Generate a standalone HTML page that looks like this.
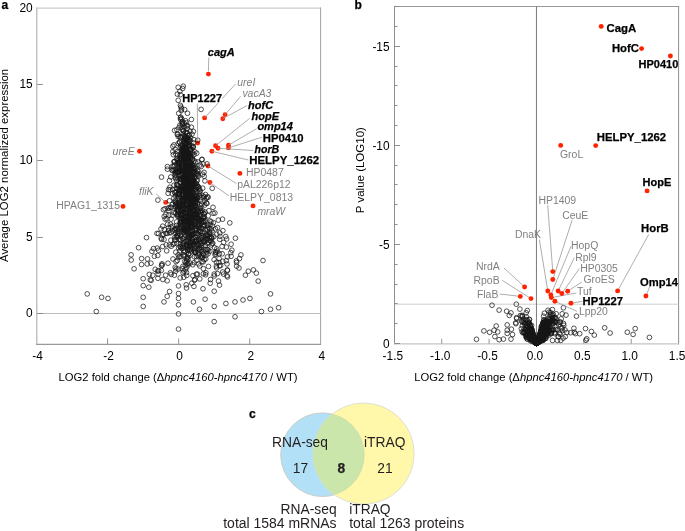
<!DOCTYPE html>
<html><head><meta charset="utf-8"><style>
html,body{margin:0;padding:0;background:#fff;width:685px;height:531px;overflow:hidden;font-family:"Liberation Sans", sans-serif;}
</style></head><body>
<svg width="685" height="531" viewBox="0 0 685 531" style="position:absolute;left:0;top:0;will-change:transform">
<rect width="685" height="531" fill="#fff"/>
<g font-family='"Liberation Sans", sans-serif'>
<line x1="36.80" y1="7.50" x2="36.80" y2="344.90" stroke="#b6b6b6" stroke-width="1.25"/>
<line x1="36.20" y1="8.10" x2="321.00" y2="8.10" stroke="#cbcbcb" stroke-width="1.4"/>
<line x1="320.60" y1="7.50" x2="320.60" y2="344.90" stroke="#a2a2a2" stroke-width="1.0"/>
<line x1="36.20" y1="344.30" x2="321.00" y2="344.30" stroke="#9a9a9a" stroke-width="1.2"/>
<line x1="36.90" y1="313.50" x2="320.80" y2="313.50" stroke="#bdbdbd" stroke-width="1.1"/>
<line x1="37.20" y1="237.50" x2="42.90" y2="237.50" stroke="#858585" stroke-width="0.9"/>
<line x1="37.20" y1="160.50" x2="42.90" y2="160.50" stroke="#858585" stroke-width="0.9"/>
<line x1="37.20" y1="84.50" x2="42.90" y2="84.50" stroke="#858585" stroke-width="0.9"/>
<line x1="37.20" y1="313.50" x2="42.90" y2="313.50" stroke="#858585" stroke-width="0.9"/>
<line x1="107.57" y1="344.10" x2="107.57" y2="338.50" stroke="#7a7a7a" stroke-width="0.8"/>
<line x1="178.65" y1="344.10" x2="178.65" y2="338.50" stroke="#7a7a7a" stroke-width="0.8"/>
<line x1="249.73" y1="344.10" x2="249.73" y2="338.50" stroke="#7a7a7a" stroke-width="0.8"/>
<circle cx="208.4" cy="74.1" r="2.45" fill="#ff2200"/>
<circle cx="204.6" cy="117.9" r="2.45" fill="#ff2200"/>
<circle cx="225.1" cy="114.6" r="2.45" fill="#ff2200"/>
<circle cx="222.8" cy="118.7" r="2.45" fill="#ff2200"/>
<circle cx="197.7" cy="143.0" r="2.45" fill="#ff2200"/>
<circle cx="215.6" cy="145.8" r="2.45" fill="#ff2200"/>
<circle cx="218.0" cy="148.3" r="2.45" fill="#ff2200"/>
<circle cx="228.5" cy="145.2" r="2.45" fill="#ff2200"/>
<circle cx="228.5" cy="147.9" r="2.45" fill="#ff2200"/>
<circle cx="211.9" cy="151.3" r="2.45" fill="#ff2200"/>
<circle cx="139.5" cy="151.3" r="2.45" fill="#ff2200"/>
<circle cx="208.0" cy="166.0" r="2.45" fill="#ff2200"/>
<circle cx="239.9" cy="173.4" r="2.45" fill="#ff2200"/>
<circle cx="209.9" cy="182.5" r="2.45" fill="#ff2200"/>
<circle cx="253.0" cy="205.9" r="2.45" fill="#ff2200"/>
<circle cx="165.7" cy="202.4" r="2.45" fill="#ff2200"/>
<circle cx="123.0" cy="206.4" r="2.45" fill="#ff2200"/>
<g fill="none" stroke="#161616" stroke-width="0.74">
<circle cx="87.2" cy="293.9" r="2.35"/>
<circle cx="101.6" cy="297.3" r="2.35"/>
<circle cx="108.0" cy="298.4" r="2.35"/>
<circle cx="96.3" cy="311.5" r="2.35"/>
<circle cx="134.1" cy="268.8" r="2.35"/>
<circle cx="141.6" cy="264.5" r="2.35"/>
<circle cx="147.2" cy="264.0" r="2.35"/>
<circle cx="150.9" cy="263.2" r="2.35"/>
<circle cx="131.2" cy="260.0" r="2.35"/>
<circle cx="143.2" cy="278.7" r="2.35"/>
<circle cx="143.2" cy="285.6" r="2.35"/>
<circle cx="148.8" cy="287.2" r="2.35"/>
<circle cx="143.2" cy="297.3" r="2.35"/>
<circle cx="143.2" cy="306.4" r="2.35"/>
<circle cx="149.3" cy="274.4" r="2.35"/>
<circle cx="152.8" cy="275.2" r="2.35"/>
<circle cx="151.2" cy="280.3" r="2.35"/>
<circle cx="155.2" cy="269.3" r="2.35"/>
<circle cx="158.1" cy="274.1" r="2.35"/>
<circle cx="161.6" cy="265.6" r="2.35"/>
<circle cx="161.3" cy="270.4" r="2.35"/>
<circle cx="162.9" cy="279.5" r="2.35"/>
<circle cx="167.2" cy="280.8" r="2.35"/>
<circle cx="165.6" cy="275.2" r="2.35"/>
<circle cx="168.0" cy="263.2" r="2.35"/>
<circle cx="170.4" cy="272.8" r="2.35"/>
<circle cx="171.2" cy="274.4" r="2.35"/>
<circle cx="174.4" cy="275.2" r="2.35"/>
<circle cx="175.7" cy="271.2" r="2.35"/>
<circle cx="175.2" cy="267.2" r="2.35"/>
<circle cx="176.0" cy="261.6" r="2.35"/>
<circle cx="169.6" cy="291.5" r="2.35"/>
<circle cx="167.2" cy="296.3" r="2.35"/>
<circle cx="164.0" cy="301.9" r="2.35"/>
<circle cx="178.5" cy="285.9" r="2.35"/>
<circle cx="178.5" cy="293.6" r="2.35"/>
<circle cx="178.5" cy="298.4" r="2.35"/>
<circle cx="178.5" cy="304.8" r="2.35"/>
<circle cx="178.5" cy="313.9" r="2.35"/>
<circle cx="178.5" cy="329.1" r="2.35"/>
<circle cx="183.8" cy="277.3" r="2.35"/>
<circle cx="186.2" cy="284.8" r="2.35"/>
<circle cx="186.5" cy="288.0" r="2.35"/>
<circle cx="191.8" cy="283.2" r="2.35"/>
<circle cx="193.9" cy="286.4" r="2.35"/>
<circle cx="193.4" cy="301.9" r="2.35"/>
<circle cx="199.5" cy="309.3" r="2.35"/>
<circle cx="203.0" cy="288.8" r="2.35"/>
<circle cx="205.1" cy="299.2" r="2.35"/>
<circle cx="210.2" cy="283.2" r="2.35"/>
<circle cx="210.5" cy="279.5" r="2.35"/>
<circle cx="214.2" cy="291.2" r="2.35"/>
<circle cx="214.2" cy="306.4" r="2.35"/>
<circle cx="214.2" cy="321.6" r="2.35"/>
<circle cx="218.5" cy="281.1" r="2.35"/>
<circle cx="219.5" cy="285.1" r="2.35"/>
<circle cx="225.9" cy="303.5" r="2.35"/>
<circle cx="235.0" cy="301.9" r="2.35"/>
<circle cx="235.0" cy="316.8" r="2.35"/>
<circle cx="243.0" cy="300.0" r="2.35"/>
<circle cx="249.9" cy="298.4" r="2.35"/>
<circle cx="245.4" cy="275.2" r="2.35"/>
<circle cx="248.3" cy="271.2" r="2.35"/>
<circle cx="253.4" cy="269.9" r="2.35"/>
<circle cx="256.3" cy="273.1" r="2.35"/>
<circle cx="258.2" cy="281.1" r="2.35"/>
<circle cx="263.0" cy="260.5" r="2.35"/>
<circle cx="270.5" cy="293.9" r="2.35"/>
<circle cx="270.5" cy="309.3" r="2.35"/>
<circle cx="261.4" cy="311.5" r="2.35"/>
<circle cx="227.0" cy="264.0" r="2.35"/>
<circle cx="227.5" cy="270.4" r="2.35"/>
<circle cx="227.0" cy="275.7" r="2.35"/>
<circle cx="222.7" cy="272.0" r="2.35"/>
<circle cx="223.5" cy="274.1" r="2.35"/>
<circle cx="236.6" cy="262.4" r="2.35"/>
<circle cx="236.6" cy="266.1" r="2.35"/>
<circle cx="239.0" cy="268.0" r="2.35"/>
<circle cx="220.6" cy="265.6" r="2.35"/>
<circle cx="216.3" cy="266.1" r="2.35"/>
<circle cx="214.2" cy="274.1" r="2.35"/>
<circle cx="214.2" cy="276.0" r="2.35"/>
<circle cx="205.9" cy="272.8" r="2.35"/>
<circle cx="199.8" cy="278.9" r="2.35"/>
<circle cx="195.0" cy="279.5" r="2.35"/>
<circle cx="192.9" cy="275.7" r="2.35"/>
<circle cx="197.4" cy="274.1" r="2.35"/>
<circle cx="182.2" cy="268.8" r="2.35"/>
<circle cx="186.5" cy="272.5" r="2.35"/>
<circle cx="240.9" cy="254.9" r="2.35"/>
<circle cx="278.6" cy="307.7" r="2.35"/>
<circle cx="157.9" cy="200.1" r="2.35"/>
<circle cx="165.0" cy="208.8" r="2.35"/>
<circle cx="164.2" cy="216.4" r="2.35"/>
<circle cx="162.7" cy="226.2" r="2.35"/>
<circle cx="157.0" cy="233.4" r="2.35"/>
<circle cx="161.2" cy="238.2" r="2.35"/>
<circle cx="138.6" cy="247.7" r="2.35"/>
<circle cx="131.1" cy="254.8" r="2.35"/>
<circle cx="141.6" cy="258.6" r="2.35"/>
<circle cx="151.9" cy="251.3" r="2.35"/>
<circle cx="158.5" cy="250.3" r="2.35"/>
<circle cx="162.7" cy="246.5" r="2.35"/>
<circle cx="154.4" cy="256.3" r="2.35"/>
<circle cx="162.0" cy="263.8" r="2.35"/>
<circle cx="178.2" cy="87.3" r="2.35"/>
<circle cx="183.2" cy="86.2" r="2.35"/>
<circle cx="182.7" cy="88.5" r="2.35"/>
<circle cx="179.9" cy="91.3" r="2.35"/>
<circle cx="177.4" cy="94.1" r="2.35"/>
<circle cx="180.4" cy="94.7" r="2.35"/>
<circle cx="178.2" cy="100.3" r="2.35"/>
<circle cx="180.4" cy="105.4" r="2.35"/>
<circle cx="181.0" cy="107.1" r="2.35"/>
<circle cx="181.6" cy="108.8" r="2.35"/>
<circle cx="184.6" cy="109.6" r="2.35"/>
<circle cx="187.5" cy="113.3" r="2.35"/>
<circle cx="178.7" cy="113.3" r="2.35"/>
<circle cx="181.2" cy="110.5" r="2.35"/>
<circle cx="191.4" cy="119.5" r="2.35"/>
<circle cx="201.1" cy="109.4" r="2.35"/>
<circle cx="180.4" cy="117.9" r="2.35"/>
<circle cx="182.1" cy="122.4" r="2.35"/>
<circle cx="182.1" cy="124.1" r="2.35"/>
<circle cx="179.9" cy="125.2" r="2.35"/>
<circle cx="186.6" cy="125.8" r="2.35"/>
<circle cx="191.4" cy="127.2" r="2.35"/>
<circle cx="193.4" cy="131.4" r="2.35"/>
<circle cx="178.2" cy="136.5" r="2.35"/>
<circle cx="161.5" cy="177.1" r="2.35"/>
<circle cx="167.4" cy="169.2" r="2.35"/>
<circle cx="173.3" cy="154.7" r="2.35"/>
<circle cx="168.5" cy="189.6" r="2.35"/>
<circle cx="207.0" cy="163.9" r="2.35"/>
<circle cx="212.2" cy="188.3" r="2.35"/>
<circle cx="197.7" cy="140.2" r="2.35"/>
<circle cx="213.0" cy="207.3" r="2.35"/>
<circle cx="218.3" cy="220.1" r="2.35"/>
<circle cx="222.9" cy="230.7" r="2.35"/>
<circle cx="226.6" cy="239.0" r="2.35"/>
<circle cx="235.4" cy="238.2" r="2.35"/>
<circle cx="231.1" cy="244.2" r="2.35"/>
<circle cx="231.9" cy="250.2" r="2.35"/>
<circle cx="231.1" cy="256.3" r="2.35"/>
<circle cx="205.5" cy="194.5" r="2.35"/>
<circle cx="213.1" cy="213.3" r="2.35"/>
<circle cx="217.6" cy="227.7" r="2.35"/>
<circle cx="219.8" cy="232.9" r="2.35"/>
<circle cx="222.1" cy="246.5" r="2.35"/>
<circle cx="236.4" cy="260.8" r="2.35"/>
<circle cx="180.8" cy="117.1" r="2.35"/>
<circle cx="181.6" cy="118.7" r="2.35"/>
<circle cx="180.6" cy="119.5" r="2.35"/>
<circle cx="185.7" cy="120.8" r="2.35"/>
<circle cx="182.5" cy="121.5" r="2.35"/>
<circle cx="186.4" cy="122.7" r="2.35"/>
<circle cx="184.2" cy="123.4" r="2.35"/>
<circle cx="182.6" cy="124.2" r="2.35"/>
<circle cx="187.7" cy="125.8" r="2.35"/>
<circle cx="184.4" cy="126.9" r="2.35"/>
<circle cx="181.8" cy="127.6" r="2.35"/>
<circle cx="179.0" cy="127.5" r="2.35"/>
<circle cx="187.2" cy="128.7" r="2.35"/>
<circle cx="182.3" cy="129.7" r="2.35"/>
<circle cx="176.9" cy="129.8" r="2.35"/>
<circle cx="174.6" cy="130.4" r="2.35"/>
<circle cx="183.5" cy="130.5" r="2.35"/>
<circle cx="183.3" cy="131.1" r="2.35"/>
<circle cx="190.0" cy="131.1" r="2.35"/>
<circle cx="186.5" cy="132.4" r="2.35"/>
<circle cx="185.3" cy="132.4" r="2.35"/>
<circle cx="183.2" cy="133.9" r="2.35"/>
<circle cx="187.6" cy="133.3" r="2.35"/>
<circle cx="177.3" cy="134.4" r="2.35"/>
<circle cx="192.0" cy="134.2" r="2.35"/>
<circle cx="177.8" cy="134.2" r="2.35"/>
<circle cx="185.1" cy="135.6" r="2.35"/>
<circle cx="189.3" cy="135.3" r="2.35"/>
<circle cx="188.8" cy="135.4" r="2.35"/>
<circle cx="184.8" cy="137.0" r="2.35"/>
<circle cx="182.8" cy="136.6" r="2.35"/>
<circle cx="180.0" cy="136.7" r="2.35"/>
<circle cx="190.7" cy="137.9" r="2.35"/>
<circle cx="180.4" cy="137.8" r="2.35"/>
<circle cx="181.4" cy="137.1" r="2.35"/>
<circle cx="187.4" cy="137.6" r="2.35"/>
<circle cx="187.5" cy="138.2" r="2.35"/>
<circle cx="186.1" cy="138.3" r="2.35"/>
<circle cx="184.9" cy="138.2" r="2.35"/>
<circle cx="184.9" cy="138.1" r="2.35"/>
<circle cx="193.8" cy="139.6" r="2.35"/>
<circle cx="186.4" cy="139.1" r="2.35"/>
<circle cx="184.9" cy="139.4" r="2.35"/>
<circle cx="189.0" cy="139.1" r="2.35"/>
<circle cx="190.0" cy="140.5" r="2.35"/>
<circle cx="184.8" cy="140.1" r="2.35"/>
<circle cx="188.3" cy="140.3" r="2.35"/>
<circle cx="187.5" cy="140.8" r="2.35"/>
<circle cx="186.7" cy="141.1" r="2.35"/>
<circle cx="184.0" cy="141.5" r="2.35"/>
<circle cx="184.8" cy="142.0" r="2.35"/>
<circle cx="189.7" cy="141.3" r="2.35"/>
<circle cx="179.7" cy="142.2" r="2.35"/>
<circle cx="186.0" cy="142.8" r="2.35"/>
<circle cx="179.5" cy="142.3" r="2.35"/>
<circle cx="186.6" cy="143.0" r="2.35"/>
<circle cx="193.6" cy="142.9" r="2.35"/>
<circle cx="188.5" cy="143.2" r="2.35"/>
<circle cx="178.2" cy="143.5" r="2.35"/>
<circle cx="184.5" cy="143.0" r="2.35"/>
<circle cx="186.2" cy="143.3" r="2.35"/>
<circle cx="181.1" cy="144.4" r="2.35"/>
<circle cx="174.0" cy="144.9" r="2.35"/>
<circle cx="184.4" cy="144.2" r="2.35"/>
<circle cx="185.8" cy="144.2" r="2.35"/>
<circle cx="188.6" cy="145.9" r="2.35"/>
<circle cx="188.4" cy="145.7" r="2.35"/>
<circle cx="180.7" cy="145.8" r="2.35"/>
<circle cx="191.6" cy="145.9" r="2.35"/>
<circle cx="189.1" cy="145.8" r="2.35"/>
<circle cx="182.4" cy="146.8" r="2.35"/>
<circle cx="185.9" cy="146.3" r="2.35"/>
<circle cx="189.7" cy="146.4" r="2.35"/>
<circle cx="172.8" cy="146.4" r="2.35"/>
<circle cx="193.1" cy="146.2" r="2.35"/>
<circle cx="182.9" cy="147.2" r="2.35"/>
<circle cx="193.2" cy="147.1" r="2.35"/>
<circle cx="180.3" cy="147.8" r="2.35"/>
<circle cx="192.9" cy="147.4" r="2.35"/>
<circle cx="184.6" cy="147.5" r="2.35"/>
<circle cx="186.1" cy="148.0" r="2.35"/>
<circle cx="186.2" cy="148.5" r="2.35"/>
<circle cx="190.6" cy="148.9" r="2.35"/>
<circle cx="183.3" cy="148.8" r="2.35"/>
<circle cx="186.5" cy="148.3" r="2.35"/>
<circle cx="189.4" cy="148.2" r="2.35"/>
<circle cx="182.1" cy="148.4" r="2.35"/>
<circle cx="183.5" cy="149.9" r="2.35"/>
<circle cx="182.1" cy="149.6" r="2.35"/>
<circle cx="190.3" cy="149.9" r="2.35"/>
<circle cx="175.2" cy="149.5" r="2.35"/>
<circle cx="191.2" cy="149.5" r="2.35"/>
<circle cx="184.6" cy="149.4" r="2.35"/>
<circle cx="185.5" cy="149.2" r="2.35"/>
<circle cx="186.6" cy="150.5" r="2.35"/>
<circle cx="182.5" cy="150.7" r="2.35"/>
<circle cx="181.2" cy="150.5" r="2.35"/>
<circle cx="184.0" cy="150.6" r="2.35"/>
<circle cx="186.2" cy="150.6" r="2.35"/>
<circle cx="183.2" cy="150.2" r="2.35"/>
<circle cx="184.1" cy="150.5" r="2.35"/>
<circle cx="194.9" cy="151.8" r="2.35"/>
<circle cx="190.7" cy="151.6" r="2.35"/>
<circle cx="182.6" cy="151.5" r="2.35"/>
<circle cx="177.3" cy="151.5" r="2.35"/>
<circle cx="185.0" cy="151.5" r="2.35"/>
<circle cx="172.8" cy="151.7" r="2.35"/>
<circle cx="187.5" cy="151.9" r="2.35"/>
<circle cx="185.3" cy="152.9" r="2.35"/>
<circle cx="192.8" cy="152.8" r="2.35"/>
<circle cx="187.6" cy="152.4" r="2.35"/>
<circle cx="187.9" cy="152.1" r="2.35"/>
<circle cx="185.8" cy="152.7" r="2.35"/>
<circle cx="187.9" cy="152.8" r="2.35"/>
<circle cx="188.3" cy="152.7" r="2.35"/>
<circle cx="183.8" cy="153.1" r="2.35"/>
<circle cx="196.7" cy="153.2" r="2.35"/>
<circle cx="175.8" cy="154.0" r="2.35"/>
<circle cx="180.5" cy="154.0" r="2.35"/>
<circle cx="189.6" cy="153.8" r="2.35"/>
<circle cx="188.9" cy="153.5" r="2.35"/>
<circle cx="190.8" cy="153.3" r="2.35"/>
<circle cx="181.9" cy="154.0" r="2.35"/>
<circle cx="194.1" cy="154.6" r="2.35"/>
<circle cx="184.8" cy="154.3" r="2.35"/>
<circle cx="186.2" cy="154.6" r="2.35"/>
<circle cx="183.7" cy="155.0" r="2.35"/>
<circle cx="185.6" cy="154.8" r="2.35"/>
<circle cx="188.4" cy="154.3" r="2.35"/>
<circle cx="185.3" cy="154.0" r="2.35"/>
<circle cx="185.4" cy="155.4" r="2.35"/>
<circle cx="188.9" cy="155.9" r="2.35"/>
<circle cx="187.7" cy="155.1" r="2.35"/>
<circle cx="181.7" cy="155.9" r="2.35"/>
<circle cx="177.6" cy="155.1" r="2.35"/>
<circle cx="181.9" cy="155.1" r="2.35"/>
<circle cx="183.5" cy="155.1" r="2.35"/>
<circle cx="180.1" cy="155.9" r="2.35"/>
<circle cx="186.6" cy="156.9" r="2.35"/>
<circle cx="183.5" cy="156.1" r="2.35"/>
<circle cx="190.1" cy="156.3" r="2.35"/>
<circle cx="180.9" cy="156.6" r="2.35"/>
<circle cx="190.1" cy="156.1" r="2.35"/>
<circle cx="183.8" cy="156.5" r="2.35"/>
<circle cx="186.1" cy="156.2" r="2.35"/>
<circle cx="188.7" cy="156.1" r="2.35"/>
<circle cx="183.9" cy="157.8" r="2.35"/>
<circle cx="190.6" cy="157.3" r="2.35"/>
<circle cx="182.1" cy="157.3" r="2.35"/>
<circle cx="185.9" cy="157.0" r="2.35"/>
<circle cx="185.9" cy="157.7" r="2.35"/>
<circle cx="187.0" cy="157.6" r="2.35"/>
<circle cx="188.4" cy="157.9" r="2.35"/>
<circle cx="192.2" cy="157.1" r="2.35"/>
<circle cx="188.6" cy="157.5" r="2.35"/>
<circle cx="180.0" cy="158.4" r="2.35"/>
<circle cx="176.6" cy="159.0" r="2.35"/>
<circle cx="185.5" cy="158.3" r="2.35"/>
<circle cx="190.7" cy="158.6" r="2.35"/>
<circle cx="177.6" cy="158.4" r="2.35"/>
<circle cx="184.8" cy="158.1" r="2.35"/>
<circle cx="187.6" cy="158.1" r="2.35"/>
<circle cx="185.7" cy="158.2" r="2.35"/>
<circle cx="181.2" cy="158.1" r="2.35"/>
<circle cx="192.3" cy="159.3" r="2.35"/>
<circle cx="179.2" cy="159.2" r="2.35"/>
<circle cx="184.1" cy="159.2" r="2.35"/>
<circle cx="192.6" cy="159.4" r="2.35"/>
<circle cx="184.6" cy="160.0" r="2.35"/>
<circle cx="201.8" cy="159.5" r="2.35"/>
<circle cx="186.5" cy="159.3" r="2.35"/>
<circle cx="202.1" cy="159.4" r="2.35"/>
<circle cx="192.1" cy="159.5" r="2.35"/>
<circle cx="186.0" cy="160.2" r="2.35"/>
<circle cx="185.4" cy="160.3" r="2.35"/>
<circle cx="186.0" cy="160.1" r="2.35"/>
<circle cx="184.5" cy="160.0" r="2.35"/>
<circle cx="187.1" cy="160.3" r="2.35"/>
<circle cx="186.9" cy="160.5" r="2.35"/>
<circle cx="194.3" cy="160.8" r="2.35"/>
<circle cx="180.5" cy="160.9" r="2.35"/>
<circle cx="177.6" cy="160.4" r="2.35"/>
<circle cx="189.6" cy="161.7" r="2.35"/>
<circle cx="185.7" cy="161.6" r="2.35"/>
<circle cx="197.6" cy="161.9" r="2.35"/>
<circle cx="189.3" cy="161.6" r="2.35"/>
<circle cx="184.9" cy="161.1" r="2.35"/>
<circle cx="174.5" cy="161.5" r="2.35"/>
<circle cx="174.0" cy="161.8" r="2.35"/>
<circle cx="185.7" cy="161.8" r="2.35"/>
<circle cx="174.5" cy="161.7" r="2.35"/>
<circle cx="179.3" cy="161.7" r="2.35"/>
<circle cx="189.4" cy="162.4" r="2.35"/>
<circle cx="186.7" cy="162.1" r="2.35"/>
<circle cx="190.3" cy="162.6" r="2.35"/>
<circle cx="179.1" cy="162.6" r="2.35"/>
<circle cx="183.0" cy="162.0" r="2.35"/>
<circle cx="179.4" cy="162.8" r="2.35"/>
<circle cx="186.0" cy="162.5" r="2.35"/>
<circle cx="178.5" cy="162.7" r="2.35"/>
<circle cx="195.6" cy="162.3" r="2.35"/>
<circle cx="190.3" cy="162.1" r="2.35"/>
<circle cx="185.6" cy="163.7" r="2.35"/>
<circle cx="181.8" cy="164.0" r="2.35"/>
<circle cx="179.8" cy="163.5" r="2.35"/>
<circle cx="186.4" cy="163.7" r="2.35"/>
<circle cx="187.1" cy="163.6" r="2.35"/>
<circle cx="177.2" cy="163.1" r="2.35"/>
<circle cx="189.1" cy="163.7" r="2.35"/>
<circle cx="190.1" cy="163.3" r="2.35"/>
<circle cx="185.2" cy="163.1" r="2.35"/>
<circle cx="185.7" cy="163.3" r="2.35"/>
<circle cx="182.7" cy="164.3" r="2.35"/>
<circle cx="177.1" cy="164.5" r="2.35"/>
<circle cx="179.1" cy="164.1" r="2.35"/>
<circle cx="187.8" cy="164.9" r="2.35"/>
<circle cx="191.8" cy="164.9" r="2.35"/>
<circle cx="203.2" cy="164.0" r="2.35"/>
<circle cx="174.5" cy="165.0" r="2.35"/>
<circle cx="189.2" cy="164.4" r="2.35"/>
<circle cx="185.6" cy="164.9" r="2.35"/>
<circle cx="190.6" cy="164.2" r="2.35"/>
<circle cx="191.2" cy="166.0" r="2.35"/>
<circle cx="192.4" cy="165.1" r="2.35"/>
<circle cx="189.5" cy="165.9" r="2.35"/>
<circle cx="179.1" cy="165.7" r="2.35"/>
<circle cx="187.8" cy="165.5" r="2.35"/>
<circle cx="200.1" cy="165.0" r="2.35"/>
<circle cx="193.8" cy="165.5" r="2.35"/>
<circle cx="186.4" cy="165.3" r="2.35"/>
<circle cx="190.0" cy="165.3" r="2.35"/>
<circle cx="190.8" cy="165.8" r="2.35"/>
<circle cx="186.3" cy="166.1" r="2.35"/>
<circle cx="173.6" cy="166.9" r="2.35"/>
<circle cx="183.0" cy="166.3" r="2.35"/>
<circle cx="172.4" cy="166.4" r="2.35"/>
<circle cx="167.4" cy="166.6" r="2.35"/>
<circle cx="201.3" cy="166.4" r="2.35"/>
<circle cx="181.5" cy="166.0" r="2.35"/>
<circle cx="188.5" cy="166.1" r="2.35"/>
<circle cx="189.0" cy="166.9" r="2.35"/>
<circle cx="181.6" cy="166.2" r="2.35"/>
<circle cx="182.0" cy="167.4" r="2.35"/>
<circle cx="186.0" cy="168.0" r="2.35"/>
<circle cx="195.3" cy="167.6" r="2.35"/>
<circle cx="178.2" cy="167.9" r="2.35"/>
<circle cx="194.1" cy="167.7" r="2.35"/>
<circle cx="183.2" cy="167.0" r="2.35"/>
<circle cx="185.5" cy="167.8" r="2.35"/>
<circle cx="179.1" cy="167.6" r="2.35"/>
<circle cx="185.8" cy="167.9" r="2.35"/>
<circle cx="188.3" cy="167.1" r="2.35"/>
<circle cx="183.2" cy="168.7" r="2.35"/>
<circle cx="191.0" cy="169.0" r="2.35"/>
<circle cx="185.7" cy="168.3" r="2.35"/>
<circle cx="196.1" cy="168.6" r="2.35"/>
<circle cx="183.1" cy="168.2" r="2.35"/>
<circle cx="188.8" cy="168.2" r="2.35"/>
<circle cx="192.8" cy="168.2" r="2.35"/>
<circle cx="182.0" cy="168.9" r="2.35"/>
<circle cx="193.6" cy="168.1" r="2.35"/>
<circle cx="186.2" cy="168.2" r="2.35"/>
<circle cx="184.8" cy="169.2" r="2.35"/>
<circle cx="188.8" cy="169.3" r="2.35"/>
<circle cx="173.6" cy="169.7" r="2.35"/>
<circle cx="180.4" cy="169.4" r="2.35"/>
<circle cx="179.3" cy="169.4" r="2.35"/>
<circle cx="190.6" cy="169.3" r="2.35"/>
<circle cx="191.4" cy="170.0" r="2.35"/>
<circle cx="188.4" cy="169.1" r="2.35"/>
<circle cx="176.9" cy="169.9" r="2.35"/>
<circle cx="186.2" cy="169.2" r="2.35"/>
<circle cx="186.5" cy="170.4" r="2.35"/>
<circle cx="193.2" cy="171.0" r="2.35"/>
<circle cx="194.4" cy="170.0" r="2.35"/>
<circle cx="175.2" cy="170.0" r="2.35"/>
<circle cx="182.8" cy="170.5" r="2.35"/>
<circle cx="172.4" cy="170.6" r="2.35"/>
<circle cx="193.2" cy="170.9" r="2.35"/>
<circle cx="186.4" cy="170.8" r="2.35"/>
<circle cx="197.6" cy="170.2" r="2.35"/>
<circle cx="172.1" cy="170.1" r="2.35"/>
<circle cx="176.2" cy="171.9" r="2.35"/>
<circle cx="185.0" cy="171.7" r="2.35"/>
<circle cx="179.5" cy="171.5" r="2.35"/>
<circle cx="177.2" cy="171.6" r="2.35"/>
<circle cx="198.0" cy="171.2" r="2.35"/>
<circle cx="189.4" cy="171.9" r="2.35"/>
<circle cx="182.9" cy="171.1" r="2.35"/>
<circle cx="181.8" cy="171.3" r="2.35"/>
<circle cx="179.5" cy="171.1" r="2.35"/>
<circle cx="178.5" cy="171.1" r="2.35"/>
<circle cx="177.5" cy="171.4" r="2.35"/>
<circle cx="185.1" cy="172.6" r="2.35"/>
<circle cx="192.3" cy="172.5" r="2.35"/>
<circle cx="186.9" cy="173.0" r="2.35"/>
<circle cx="177.7" cy="172.5" r="2.35"/>
<circle cx="175.2" cy="172.2" r="2.35"/>
<circle cx="186.8" cy="172.7" r="2.35"/>
<circle cx="204.0" cy="172.3" r="2.35"/>
<circle cx="194.5" cy="172.7" r="2.35"/>
<circle cx="187.6" cy="172.4" r="2.35"/>
<circle cx="186.0" cy="172.9" r="2.35"/>
<circle cx="196.8" cy="173.0" r="2.35"/>
<circle cx="182.7" cy="173.7" r="2.35"/>
<circle cx="192.7" cy="173.2" r="2.35"/>
<circle cx="189.8" cy="173.5" r="2.35"/>
<circle cx="175.7" cy="173.2" r="2.35"/>
<circle cx="192.4" cy="173.8" r="2.35"/>
<circle cx="185.4" cy="173.2" r="2.35"/>
<circle cx="188.6" cy="173.3" r="2.35"/>
<circle cx="198.0" cy="174.0" r="2.35"/>
<circle cx="182.1" cy="173.2" r="2.35"/>
<circle cx="186.6" cy="173.4" r="2.35"/>
<circle cx="190.3" cy="174.4" r="2.35"/>
<circle cx="185.3" cy="174.2" r="2.35"/>
<circle cx="190.4" cy="174.1" r="2.35"/>
<circle cx="185.9" cy="174.1" r="2.35"/>
<circle cx="174.9" cy="174.9" r="2.35"/>
<circle cx="195.8" cy="174.7" r="2.35"/>
<circle cx="202.7" cy="174.3" r="2.35"/>
<circle cx="186.3" cy="174.2" r="2.35"/>
<circle cx="197.2" cy="174.0" r="2.35"/>
<circle cx="182.0" cy="174.7" r="2.35"/>
<circle cx="182.2" cy="175.2" r="2.35"/>
<circle cx="191.1" cy="175.0" r="2.35"/>
<circle cx="185.4" cy="176.0" r="2.35"/>
<circle cx="193.0" cy="175.1" r="2.35"/>
<circle cx="191.3" cy="175.4" r="2.35"/>
<circle cx="185.5" cy="175.8" r="2.35"/>
<circle cx="189.9" cy="175.0" r="2.35"/>
<circle cx="179.9" cy="175.5" r="2.35"/>
<circle cx="175.6" cy="175.2" r="2.35"/>
<circle cx="197.9" cy="175.4" r="2.35"/>
<circle cx="188.0" cy="175.4" r="2.35"/>
<circle cx="185.6" cy="176.8" r="2.35"/>
<circle cx="188.5" cy="176.1" r="2.35"/>
<circle cx="187.1" cy="176.9" r="2.35"/>
<circle cx="186.1" cy="176.9" r="2.35"/>
<circle cx="198.4" cy="176.3" r="2.35"/>
<circle cx="184.2" cy="176.6" r="2.35"/>
<circle cx="204.2" cy="176.3" r="2.35"/>
<circle cx="185.4" cy="176.3" r="2.35"/>
<circle cx="180.6" cy="176.0" r="2.35"/>
<circle cx="187.2" cy="176.6" r="2.35"/>
<circle cx="170.8" cy="177.0" r="2.35"/>
<circle cx="187.5" cy="178.0" r="2.35"/>
<circle cx="194.7" cy="178.0" r="2.35"/>
<circle cx="182.6" cy="177.4" r="2.35"/>
<circle cx="190.2" cy="177.5" r="2.35"/>
<circle cx="190.7" cy="177.8" r="2.35"/>
<circle cx="184.7" cy="177.7" r="2.35"/>
<circle cx="192.1" cy="177.6" r="2.35"/>
<circle cx="175.7" cy="177.3" r="2.35"/>
<circle cx="183.8" cy="177.8" r="2.35"/>
<circle cx="192.9" cy="178.2" r="2.35"/>
<circle cx="186.8" cy="178.1" r="2.35"/>
<circle cx="181.3" cy="178.0" r="2.35"/>
<circle cx="180.7" cy="179.0" r="2.35"/>
<circle cx="184.7" cy="178.9" r="2.35"/>
<circle cx="192.3" cy="178.1" r="2.35"/>
<circle cx="186.3" cy="178.1" r="2.35"/>
<circle cx="175.5" cy="178.4" r="2.35"/>
<circle cx="186.8" cy="178.2" r="2.35"/>
<circle cx="178.1" cy="178.7" r="2.35"/>
<circle cx="191.7" cy="178.7" r="2.35"/>
<circle cx="184.9" cy="179.8" r="2.35"/>
<circle cx="183.6" cy="179.3" r="2.35"/>
<circle cx="180.4" cy="179.7" r="2.35"/>
<circle cx="183.9" cy="179.2" r="2.35"/>
<circle cx="186.8" cy="179.2" r="2.35"/>
<circle cx="192.2" cy="179.9" r="2.35"/>
<circle cx="181.1" cy="179.4" r="2.35"/>
<circle cx="183.7" cy="180.0" r="2.35"/>
<circle cx="181.5" cy="179.8" r="2.35"/>
<circle cx="186.5" cy="179.7" r="2.35"/>
<circle cx="193.4" cy="180.8" r="2.35"/>
<circle cx="191.7" cy="180.8" r="2.35"/>
<circle cx="188.6" cy="180.3" r="2.35"/>
<circle cx="185.7" cy="180.1" r="2.35"/>
<circle cx="194.0" cy="180.6" r="2.35"/>
<circle cx="204.9" cy="180.9" r="2.35"/>
<circle cx="176.7" cy="180.4" r="2.35"/>
<circle cx="197.3" cy="180.3" r="2.35"/>
<circle cx="189.8" cy="180.1" r="2.35"/>
<circle cx="169.5" cy="180.6" r="2.35"/>
<circle cx="188.3" cy="181.1" r="2.35"/>
<circle cx="193.7" cy="181.2" r="2.35"/>
<circle cx="186.5" cy="181.7" r="2.35"/>
<circle cx="196.7" cy="181.2" r="2.35"/>
<circle cx="193.3" cy="181.7" r="2.35"/>
<circle cx="187.3" cy="181.2" r="2.35"/>
<circle cx="185.0" cy="181.8" r="2.35"/>
<circle cx="191.4" cy="181.5" r="2.35"/>
<circle cx="190.0" cy="181.4" r="2.35"/>
<circle cx="188.1" cy="181.6" r="2.35"/>
<circle cx="184.8" cy="181.2" r="2.35"/>
<circle cx="184.4" cy="182.4" r="2.35"/>
<circle cx="185.6" cy="183.0" r="2.35"/>
<circle cx="193.0" cy="182.3" r="2.35"/>
<circle cx="180.6" cy="182.4" r="2.35"/>
<circle cx="184.1" cy="182.9" r="2.35"/>
<circle cx="193.9" cy="182.2" r="2.35"/>
<circle cx="186.7" cy="182.7" r="2.35"/>
<circle cx="187.1" cy="182.9" r="2.35"/>
<circle cx="187.6" cy="182.4" r="2.35"/>
<circle cx="190.1" cy="182.9" r="2.35"/>
<circle cx="180.1" cy="182.5" r="2.35"/>
<circle cx="196.3" cy="183.6" r="2.35"/>
<circle cx="187.8" cy="183.9" r="2.35"/>
<circle cx="195.7" cy="183.4" r="2.35"/>
<circle cx="192.4" cy="183.5" r="2.35"/>
<circle cx="190.6" cy="183.5" r="2.35"/>
<circle cx="191.7" cy="183.9" r="2.35"/>
<circle cx="193.6" cy="183.8" r="2.35"/>
<circle cx="192.4" cy="184.0" r="2.35"/>
<circle cx="188.2" cy="183.9" r="2.35"/>
<circle cx="190.6" cy="184.0" r="2.35"/>
<circle cx="184.5" cy="183.9" r="2.35"/>
<circle cx="187.2" cy="184.9" r="2.35"/>
<circle cx="176.8" cy="184.2" r="2.35"/>
<circle cx="177.4" cy="184.8" r="2.35"/>
<circle cx="188.3" cy="184.8" r="2.35"/>
<circle cx="194.4" cy="184.8" r="2.35"/>
<circle cx="189.1" cy="184.4" r="2.35"/>
<circle cx="191.7" cy="184.5" r="2.35"/>
<circle cx="184.1" cy="184.2" r="2.35"/>
<circle cx="189.5" cy="184.7" r="2.35"/>
<circle cx="188.7" cy="184.6" r="2.35"/>
<circle cx="185.7" cy="184.8" r="2.35"/>
<circle cx="189.0" cy="185.6" r="2.35"/>
<circle cx="183.8" cy="185.6" r="2.35"/>
<circle cx="182.5" cy="185.4" r="2.35"/>
<circle cx="182.4" cy="185.6" r="2.35"/>
<circle cx="177.2" cy="185.4" r="2.35"/>
<circle cx="191.9" cy="185.4" r="2.35"/>
<circle cx="197.3" cy="185.5" r="2.35"/>
<circle cx="188.5" cy="185.2" r="2.35"/>
<circle cx="188.1" cy="185.5" r="2.35"/>
<circle cx="174.0" cy="185.2" r="2.35"/>
<circle cx="183.5" cy="185.1" r="2.35"/>
<circle cx="187.7" cy="186.1" r="2.35"/>
<circle cx="178.6" cy="186.0" r="2.35"/>
<circle cx="190.3" cy="186.6" r="2.35"/>
<circle cx="197.8" cy="186.8" r="2.35"/>
<circle cx="193.2" cy="186.5" r="2.35"/>
<circle cx="195.5" cy="186.4" r="2.35"/>
<circle cx="190.1" cy="187.0" r="2.35"/>
<circle cx="196.9" cy="187.0" r="2.35"/>
<circle cx="198.4" cy="186.7" r="2.35"/>
<circle cx="189.1" cy="187.0" r="2.35"/>
<circle cx="182.5" cy="186.5" r="2.35"/>
<circle cx="191.1" cy="187.8" r="2.35"/>
<circle cx="184.8" cy="187.9" r="2.35"/>
<circle cx="193.7" cy="187.8" r="2.35"/>
<circle cx="190.0" cy="187.2" r="2.35"/>
<circle cx="192.1" cy="187.8" r="2.35"/>
<circle cx="183.4" cy="187.1" r="2.35"/>
<circle cx="169.9" cy="187.2" r="2.35"/>
<circle cx="186.9" cy="187.3" r="2.35"/>
<circle cx="180.4" cy="187.0" r="2.35"/>
<circle cx="186.9" cy="187.2" r="2.35"/>
<circle cx="196.7" cy="187.7" r="2.35"/>
<circle cx="202.7" cy="188.2" r="2.35"/>
<circle cx="188.1" cy="188.5" r="2.35"/>
<circle cx="183.5" cy="188.6" r="2.35"/>
<circle cx="177.2" cy="188.6" r="2.35"/>
<circle cx="199.4" cy="188.6" r="2.35"/>
<circle cx="189.9" cy="189.0" r="2.35"/>
<circle cx="184.8" cy="188.6" r="2.35"/>
<circle cx="176.3" cy="188.3" r="2.35"/>
<circle cx="195.8" cy="189.0" r="2.35"/>
<circle cx="180.8" cy="188.8" r="2.35"/>
<circle cx="183.8" cy="188.4" r="2.35"/>
<circle cx="187.2" cy="189.8" r="2.35"/>
<circle cx="184.9" cy="189.3" r="2.35"/>
<circle cx="172.9" cy="189.6" r="2.35"/>
<circle cx="170.1" cy="189.7" r="2.35"/>
<circle cx="187.1" cy="189.0" r="2.35"/>
<circle cx="187.8" cy="189.1" r="2.35"/>
<circle cx="181.1" cy="189.5" r="2.35"/>
<circle cx="181.8" cy="189.9" r="2.35"/>
<circle cx="191.1" cy="189.7" r="2.35"/>
<circle cx="191.5" cy="189.0" r="2.35"/>
<circle cx="194.6" cy="189.1" r="2.35"/>
<circle cx="187.5" cy="190.2" r="2.35"/>
<circle cx="178.3" cy="190.2" r="2.35"/>
<circle cx="182.1" cy="190.6" r="2.35"/>
<circle cx="183.2" cy="190.9" r="2.35"/>
<circle cx="188.1" cy="190.2" r="2.35"/>
<circle cx="189.5" cy="190.6" r="2.35"/>
<circle cx="190.3" cy="190.9" r="2.35"/>
<circle cx="189.0" cy="190.3" r="2.35"/>
<circle cx="179.6" cy="190.0" r="2.35"/>
<circle cx="181.2" cy="190.4" r="2.35"/>
<circle cx="179.4" cy="190.6" r="2.35"/>
<circle cx="199.5" cy="191.2" r="2.35"/>
<circle cx="182.5" cy="191.9" r="2.35"/>
<circle cx="196.9" cy="191.4" r="2.35"/>
<circle cx="190.2" cy="191.2" r="2.35"/>
<circle cx="200.4" cy="191.0" r="2.35"/>
<circle cx="192.5" cy="191.6" r="2.35"/>
<circle cx="191.6" cy="191.2" r="2.35"/>
<circle cx="185.9" cy="191.6" r="2.35"/>
<circle cx="176.1" cy="191.8" r="2.35"/>
<circle cx="187.0" cy="191.2" r="2.35"/>
<circle cx="185.0" cy="191.0" r="2.35"/>
<circle cx="193.9" cy="192.8" r="2.35"/>
<circle cx="187.4" cy="192.8" r="2.35"/>
<circle cx="186.7" cy="192.7" r="2.35"/>
<circle cx="174.6" cy="192.5" r="2.35"/>
<circle cx="190.4" cy="192.2" r="2.35"/>
<circle cx="192.2" cy="192.0" r="2.35"/>
<circle cx="191.2" cy="192.3" r="2.35"/>
<circle cx="187.5" cy="192.8" r="2.35"/>
<circle cx="175.1" cy="192.7" r="2.35"/>
<circle cx="186.5" cy="192.4" r="2.35"/>
<circle cx="197.7" cy="192.8" r="2.35"/>
<circle cx="186.5" cy="194.0" r="2.35"/>
<circle cx="199.3" cy="193.2" r="2.35"/>
<circle cx="188.7" cy="193.3" r="2.35"/>
<circle cx="186.7" cy="193.2" r="2.35"/>
<circle cx="186.9" cy="193.7" r="2.35"/>
<circle cx="168.1" cy="193.3" r="2.35"/>
<circle cx="192.9" cy="193.2" r="2.35"/>
<circle cx="182.7" cy="193.9" r="2.35"/>
<circle cx="179.1" cy="193.7" r="2.35"/>
<circle cx="178.5" cy="194.0" r="2.35"/>
<circle cx="172.3" cy="193.7" r="2.35"/>
<circle cx="190.7" cy="194.4" r="2.35"/>
<circle cx="186.0" cy="194.3" r="2.35"/>
<circle cx="177.2" cy="194.2" r="2.35"/>
<circle cx="185.3" cy="194.9" r="2.35"/>
<circle cx="185.4" cy="194.1" r="2.35"/>
<circle cx="191.6" cy="194.9" r="2.35"/>
<circle cx="188.4" cy="194.3" r="2.35"/>
<circle cx="189.0" cy="194.0" r="2.35"/>
<circle cx="189.3" cy="194.7" r="2.35"/>
<circle cx="179.3" cy="194.7" r="2.35"/>
<circle cx="178.3" cy="194.1" r="2.35"/>
<circle cx="177.8" cy="195.8" r="2.35"/>
<circle cx="199.4" cy="195.9" r="2.35"/>
<circle cx="203.1" cy="195.9" r="2.35"/>
<circle cx="194.5" cy="195.9" r="2.35"/>
<circle cx="192.2" cy="195.1" r="2.35"/>
<circle cx="191.3" cy="195.0" r="2.35"/>
<circle cx="196.5" cy="195.6" r="2.35"/>
<circle cx="175.4" cy="195.8" r="2.35"/>
<circle cx="183.2" cy="195.1" r="2.35"/>
<circle cx="182.8" cy="195.1" r="2.35"/>
<circle cx="188.1" cy="195.3" r="2.35"/>
<circle cx="182.2" cy="196.0" r="2.35"/>
<circle cx="187.6" cy="196.7" r="2.35"/>
<circle cx="194.7" cy="196.4" r="2.35"/>
<circle cx="178.6" cy="196.5" r="2.35"/>
<circle cx="207.4" cy="196.9" r="2.35"/>
<circle cx="186.3" cy="196.4" r="2.35"/>
<circle cx="186.5" cy="196.4" r="2.35"/>
<circle cx="189.0" cy="196.7" r="2.35"/>
<circle cx="180.2" cy="196.5" r="2.35"/>
<circle cx="191.4" cy="196.1" r="2.35"/>
<circle cx="204.2" cy="196.8" r="2.35"/>
<circle cx="193.6" cy="197.8" r="2.35"/>
<circle cx="188.0" cy="198.0" r="2.35"/>
<circle cx="197.8" cy="197.5" r="2.35"/>
<circle cx="188.2" cy="197.8" r="2.35"/>
<circle cx="191.9" cy="197.3" r="2.35"/>
<circle cx="197.0" cy="197.8" r="2.35"/>
<circle cx="186.6" cy="197.3" r="2.35"/>
<circle cx="208.2" cy="197.2" r="2.35"/>
<circle cx="184.9" cy="197.1" r="2.35"/>
<circle cx="178.5" cy="197.6" r="2.35"/>
<circle cx="201.0" cy="197.7" r="2.35"/>
<circle cx="195.2" cy="197.8" r="2.35"/>
<circle cx="182.7" cy="198.4" r="2.35"/>
<circle cx="194.9" cy="198.9" r="2.35"/>
<circle cx="203.4" cy="198.0" r="2.35"/>
<circle cx="197.3" cy="198.2" r="2.35"/>
<circle cx="186.5" cy="198.5" r="2.35"/>
<circle cx="206.4" cy="198.4" r="2.35"/>
<circle cx="192.7" cy="198.5" r="2.35"/>
<circle cx="183.9" cy="198.5" r="2.35"/>
<circle cx="188.4" cy="198.6" r="2.35"/>
<circle cx="173.8" cy="198.3" r="2.35"/>
<circle cx="185.7" cy="198.8" r="2.35"/>
<circle cx="192.6" cy="199.7" r="2.35"/>
<circle cx="192.6" cy="199.8" r="2.35"/>
<circle cx="196.2" cy="199.6" r="2.35"/>
<circle cx="194.9" cy="199.9" r="2.35"/>
<circle cx="195.0" cy="199.2" r="2.35"/>
<circle cx="190.7" cy="199.7" r="2.35"/>
<circle cx="194.9" cy="199.8" r="2.35"/>
<circle cx="191.0" cy="199.2" r="2.35"/>
<circle cx="192.3" cy="199.3" r="2.35"/>
<circle cx="183.1" cy="199.3" r="2.35"/>
<circle cx="187.4" cy="199.2" r="2.35"/>
<circle cx="187.7" cy="201.0" r="2.35"/>
<circle cx="184.2" cy="200.1" r="2.35"/>
<circle cx="169.5" cy="200.8" r="2.35"/>
<circle cx="204.8" cy="200.7" r="2.35"/>
<circle cx="182.9" cy="200.6" r="2.35"/>
<circle cx="190.5" cy="200.1" r="2.35"/>
<circle cx="190.5" cy="200.0" r="2.35"/>
<circle cx="196.5" cy="200.4" r="2.35"/>
<circle cx="191.6" cy="200.5" r="2.35"/>
<circle cx="175.3" cy="200.6" r="2.35"/>
<circle cx="183.5" cy="200.6" r="2.35"/>
<circle cx="189.4" cy="201.7" r="2.35"/>
<circle cx="196.1" cy="201.6" r="2.35"/>
<circle cx="183.2" cy="201.7" r="2.35"/>
<circle cx="182.7" cy="201.7" r="2.35"/>
<circle cx="191.3" cy="201.9" r="2.35"/>
<circle cx="190.3" cy="201.9" r="2.35"/>
<circle cx="174.8" cy="201.7" r="2.35"/>
<circle cx="182.2" cy="201.3" r="2.35"/>
<circle cx="180.8" cy="201.6" r="2.35"/>
<circle cx="195.8" cy="201.8" r="2.35"/>
<circle cx="193.6" cy="201.7" r="2.35"/>
<circle cx="188.4" cy="202.5" r="2.35"/>
<circle cx="197.7" cy="202.6" r="2.35"/>
<circle cx="177.2" cy="202.9" r="2.35"/>
<circle cx="195.5" cy="202.2" r="2.35"/>
<circle cx="179.7" cy="202.4" r="2.35"/>
<circle cx="175.7" cy="202.5" r="2.35"/>
<circle cx="190.8" cy="202.5" r="2.35"/>
<circle cx="188.0" cy="202.2" r="2.35"/>
<circle cx="192.5" cy="202.5" r="2.35"/>
<circle cx="178.5" cy="202.7" r="2.35"/>
<circle cx="183.4" cy="203.6" r="2.35"/>
<circle cx="193.6" cy="203.4" r="2.35"/>
<circle cx="178.9" cy="203.9" r="2.35"/>
<circle cx="191.8" cy="203.4" r="2.35"/>
<circle cx="201.6" cy="203.8" r="2.35"/>
<circle cx="207.0" cy="203.4" r="2.35"/>
<circle cx="206.4" cy="203.1" r="2.35"/>
<circle cx="187.1" cy="203.0" r="2.35"/>
<circle cx="197.4" cy="203.4" r="2.35"/>
<circle cx="176.3" cy="203.4" r="2.35"/>
<circle cx="195.1" cy="203.3" r="2.35"/>
<circle cx="187.4" cy="204.5" r="2.35"/>
<circle cx="191.4" cy="204.2" r="2.35"/>
<circle cx="180.0" cy="204.1" r="2.35"/>
<circle cx="191.3" cy="204.6" r="2.35"/>
<circle cx="172.3" cy="204.5" r="2.35"/>
<circle cx="182.5" cy="205.0" r="2.35"/>
<circle cx="186.1" cy="204.4" r="2.35"/>
<circle cx="177.8" cy="204.8" r="2.35"/>
<circle cx="175.8" cy="204.5" r="2.35"/>
<circle cx="185.4" cy="204.1" r="2.35"/>
<circle cx="199.5" cy="204.8" r="2.35"/>
<circle cx="192.8" cy="205.4" r="2.35"/>
<circle cx="182.8" cy="205.3" r="2.35"/>
<circle cx="183.4" cy="205.0" r="2.35"/>
<circle cx="191.2" cy="205.7" r="2.35"/>
<circle cx="187.3" cy="205.3" r="2.35"/>
<circle cx="195.3" cy="205.5" r="2.35"/>
<circle cx="176.9" cy="205.7" r="2.35"/>
<circle cx="194.2" cy="205.4" r="2.35"/>
<circle cx="204.7" cy="205.1" r="2.35"/>
<circle cx="180.9" cy="205.8" r="2.35"/>
<circle cx="201.8" cy="205.1" r="2.35"/>
<circle cx="179.7" cy="205.8" r="2.35"/>
<circle cx="190.1" cy="207.0" r="2.35"/>
<circle cx="188.8" cy="206.7" r="2.35"/>
<circle cx="188.7" cy="206.1" r="2.35"/>
<circle cx="192.9" cy="206.2" r="2.35"/>
<circle cx="190.1" cy="206.2" r="2.35"/>
<circle cx="180.3" cy="206.9" r="2.35"/>
<circle cx="190.1" cy="206.9" r="2.35"/>
<circle cx="183.3" cy="206.6" r="2.35"/>
<circle cx="191.3" cy="206.9" r="2.35"/>
<circle cx="175.3" cy="206.8" r="2.35"/>
<circle cx="191.9" cy="206.7" r="2.35"/>
<circle cx="183.6" cy="207.7" r="2.35"/>
<circle cx="171.0" cy="207.6" r="2.35"/>
<circle cx="196.0" cy="207.3" r="2.35"/>
<circle cx="189.3" cy="207.5" r="2.35"/>
<circle cx="193.8" cy="207.1" r="2.35"/>
<circle cx="183.7" cy="207.5" r="2.35"/>
<circle cx="189.8" cy="207.5" r="2.35"/>
<circle cx="170.9" cy="207.0" r="2.35"/>
<circle cx="184.2" cy="207.8" r="2.35"/>
<circle cx="177.1" cy="207.7" r="2.35"/>
<circle cx="191.1" cy="207.8" r="2.35"/>
<circle cx="168.1" cy="208.1" r="2.35"/>
<circle cx="200.4" cy="208.6" r="2.35"/>
<circle cx="187.4" cy="208.6" r="2.35"/>
<circle cx="187.1" cy="208.7" r="2.35"/>
<circle cx="196.4" cy="209.0" r="2.35"/>
<circle cx="185.3" cy="208.5" r="2.35"/>
<circle cx="169.0" cy="208.0" r="2.35"/>
<circle cx="190.8" cy="208.7" r="2.35"/>
<circle cx="182.8" cy="208.9" r="2.35"/>
<circle cx="182.8" cy="208.4" r="2.35"/>
<circle cx="177.6" cy="208.8" r="2.35"/>
<circle cx="190.7" cy="208.2" r="2.35"/>
<circle cx="178.3" cy="209.8" r="2.35"/>
<circle cx="194.5" cy="209.3" r="2.35"/>
<circle cx="193.4" cy="209.5" r="2.35"/>
<circle cx="180.5" cy="209.3" r="2.35"/>
<circle cx="163.4" cy="209.7" r="2.35"/>
<circle cx="187.9" cy="209.8" r="2.35"/>
<circle cx="184.9" cy="209.3" r="2.35"/>
<circle cx="196.1" cy="209.6" r="2.35"/>
<circle cx="178.0" cy="209.0" r="2.35"/>
<circle cx="176.6" cy="209.7" r="2.35"/>
<circle cx="197.8" cy="209.0" r="2.35"/>
<circle cx="181.1" cy="209.3" r="2.35"/>
<circle cx="196.9" cy="210.6" r="2.35"/>
<circle cx="208.9" cy="210.7" r="2.35"/>
<circle cx="194.1" cy="210.6" r="2.35"/>
<circle cx="168.8" cy="210.6" r="2.35"/>
<circle cx="178.7" cy="210.6" r="2.35"/>
<circle cx="178.5" cy="210.7" r="2.35"/>
<circle cx="192.3" cy="210.5" r="2.35"/>
<circle cx="202.7" cy="210.8" r="2.35"/>
<circle cx="193.8" cy="210.0" r="2.35"/>
<circle cx="192.6" cy="210.8" r="2.35"/>
<circle cx="200.9" cy="210.4" r="2.35"/>
<circle cx="181.9" cy="210.8" r="2.35"/>
<circle cx="182.2" cy="211.3" r="2.35"/>
<circle cx="186.3" cy="211.4" r="2.35"/>
<circle cx="184.8" cy="211.6" r="2.35"/>
<circle cx="198.4" cy="211.9" r="2.35"/>
<circle cx="200.9" cy="211.0" r="2.35"/>
<circle cx="193.3" cy="211.1" r="2.35"/>
<circle cx="193.8" cy="211.9" r="2.35"/>
<circle cx="177.4" cy="211.4" r="2.35"/>
<circle cx="198.6" cy="211.6" r="2.35"/>
<circle cx="190.0" cy="211.9" r="2.35"/>
<circle cx="200.0" cy="211.4" r="2.35"/>
<circle cx="187.9" cy="212.6" r="2.35"/>
<circle cx="190.5" cy="212.0" r="2.35"/>
<circle cx="194.7" cy="212.0" r="2.35"/>
<circle cx="187.2" cy="213.0" r="2.35"/>
<circle cx="184.7" cy="212.1" r="2.35"/>
<circle cx="192.7" cy="212.0" r="2.35"/>
<circle cx="185.5" cy="212.7" r="2.35"/>
<circle cx="190.0" cy="212.2" r="2.35"/>
<circle cx="205.1" cy="212.1" r="2.35"/>
<circle cx="191.5" cy="212.9" r="2.35"/>
<circle cx="173.9" cy="212.7" r="2.35"/>
<circle cx="201.1" cy="212.7" r="2.35"/>
<circle cx="196.4" cy="213.9" r="2.35"/>
<circle cx="188.7" cy="213.7" r="2.35"/>
<circle cx="214.9" cy="213.0" r="2.35"/>
<circle cx="203.7" cy="213.8" r="2.35"/>
<circle cx="190.7" cy="213.1" r="2.35"/>
<circle cx="183.3" cy="213.2" r="2.35"/>
<circle cx="204.2" cy="213.9" r="2.35"/>
<circle cx="185.9" cy="213.4" r="2.35"/>
<circle cx="189.6" cy="213.6" r="2.35"/>
<circle cx="175.5" cy="213.1" r="2.35"/>
<circle cx="194.9" cy="213.8" r="2.35"/>
<circle cx="180.7" cy="214.4" r="2.35"/>
<circle cx="178.3" cy="214.4" r="2.35"/>
<circle cx="194.9" cy="214.8" r="2.35"/>
<circle cx="165.9" cy="214.6" r="2.35"/>
<circle cx="188.5" cy="215.0" r="2.35"/>
<circle cx="192.9" cy="214.7" r="2.35"/>
<circle cx="193.7" cy="214.6" r="2.35"/>
<circle cx="181.5" cy="215.0" r="2.35"/>
<circle cx="196.1" cy="214.3" r="2.35"/>
<circle cx="177.6" cy="214.4" r="2.35"/>
<circle cx="196.9" cy="214.7" r="2.35"/>
<circle cx="183.1" cy="214.6" r="2.35"/>
<circle cx="192.5" cy="215.0" r="2.35"/>
<circle cx="181.8" cy="215.3" r="2.35"/>
<circle cx="177.6" cy="215.8" r="2.35"/>
<circle cx="195.9" cy="215.9" r="2.35"/>
<circle cx="208.2" cy="215.8" r="2.35"/>
<circle cx="194.6" cy="215.9" r="2.35"/>
<circle cx="182.2" cy="215.9" r="2.35"/>
<circle cx="186.0" cy="215.8" r="2.35"/>
<circle cx="180.5" cy="215.3" r="2.35"/>
<circle cx="168.9" cy="215.1" r="2.35"/>
<circle cx="172.4" cy="215.2" r="2.35"/>
<circle cx="183.6" cy="216.9" r="2.35"/>
<circle cx="191.1" cy="216.7" r="2.35"/>
<circle cx="203.7" cy="216.5" r="2.35"/>
<circle cx="191.8" cy="216.8" r="2.35"/>
<circle cx="197.3" cy="216.8" r="2.35"/>
<circle cx="185.4" cy="216.8" r="2.35"/>
<circle cx="190.8" cy="216.8" r="2.35"/>
<circle cx="191.1" cy="216.9" r="2.35"/>
<circle cx="203.2" cy="216.9" r="2.35"/>
<circle cx="178.0" cy="216.6" r="2.35"/>
<circle cx="188.1" cy="216.2" r="2.35"/>
<circle cx="196.6" cy="217.4" r="2.35"/>
<circle cx="204.5" cy="217.6" r="2.35"/>
<circle cx="179.4" cy="217.1" r="2.35"/>
<circle cx="197.0" cy="217.0" r="2.35"/>
<circle cx="199.9" cy="217.1" r="2.35"/>
<circle cx="189.6" cy="217.6" r="2.35"/>
<circle cx="191.2" cy="217.6" r="2.35"/>
<circle cx="183.8" cy="217.3" r="2.35"/>
<circle cx="187.7" cy="217.0" r="2.35"/>
<circle cx="189.5" cy="218.0" r="2.35"/>
<circle cx="197.8" cy="217.6" r="2.35"/>
<circle cx="180.8" cy="217.3" r="2.35"/>
<circle cx="166.9" cy="218.8" r="2.35"/>
<circle cx="201.4" cy="218.8" r="2.35"/>
<circle cx="197.8" cy="218.0" r="2.35"/>
<circle cx="188.0" cy="218.2" r="2.35"/>
<circle cx="191.8" cy="218.1" r="2.35"/>
<circle cx="193.9" cy="218.6" r="2.35"/>
<circle cx="198.0" cy="218.9" r="2.35"/>
<circle cx="181.4" cy="218.9" r="2.35"/>
<circle cx="203.1" cy="218.4" r="2.35"/>
<circle cx="195.5" cy="218.1" r="2.35"/>
<circle cx="197.8" cy="218.6" r="2.35"/>
<circle cx="187.9" cy="220.0" r="2.35"/>
<circle cx="184.8" cy="219.4" r="2.35"/>
<circle cx="180.6" cy="219.2" r="2.35"/>
<circle cx="222.5" cy="219.2" r="2.35"/>
<circle cx="182.9" cy="219.0" r="2.35"/>
<circle cx="189.6" cy="219.9" r="2.35"/>
<circle cx="200.0" cy="219.9" r="2.35"/>
<circle cx="191.7" cy="219.8" r="2.35"/>
<circle cx="187.2" cy="219.7" r="2.35"/>
<circle cx="171.1" cy="219.1" r="2.35"/>
<circle cx="165.1" cy="219.1" r="2.35"/>
<circle cx="205.3" cy="220.3" r="2.35"/>
<circle cx="184.0" cy="220.6" r="2.35"/>
<circle cx="190.4" cy="220.3" r="2.35"/>
<circle cx="185.0" cy="220.3" r="2.35"/>
<circle cx="199.0" cy="220.2" r="2.35"/>
<circle cx="198.9" cy="220.2" r="2.35"/>
<circle cx="200.3" cy="220.0" r="2.35"/>
<circle cx="202.9" cy="220.7" r="2.35"/>
<circle cx="191.1" cy="220.9" r="2.35"/>
<circle cx="192.9" cy="220.2" r="2.35"/>
<circle cx="210.1" cy="220.9" r="2.35"/>
<circle cx="181.3" cy="221.4" r="2.35"/>
<circle cx="211.0" cy="221.8" r="2.35"/>
<circle cx="204.7" cy="221.6" r="2.35"/>
<circle cx="180.6" cy="221.8" r="2.35"/>
<circle cx="193.2" cy="221.5" r="2.35"/>
<circle cx="186.0" cy="221.2" r="2.35"/>
<circle cx="185.8" cy="221.1" r="2.35"/>
<circle cx="187.1" cy="221.1" r="2.35"/>
<circle cx="176.6" cy="221.9" r="2.35"/>
<circle cx="189.1" cy="221.2" r="2.35"/>
<circle cx="201.5" cy="221.3" r="2.35"/>
<circle cx="195.5" cy="221.2" r="2.35"/>
<circle cx="181.8" cy="222.3" r="2.35"/>
<circle cx="194.8" cy="223.0" r="2.35"/>
<circle cx="187.2" cy="222.1" r="2.35"/>
<circle cx="203.4" cy="222.2" r="2.35"/>
<circle cx="180.2" cy="222.5" r="2.35"/>
<circle cx="188.4" cy="222.2" r="2.35"/>
<circle cx="198.7" cy="222.4" r="2.35"/>
<circle cx="229.8" cy="222.9" r="2.35"/>
<circle cx="188.1" cy="222.1" r="2.35"/>
<circle cx="184.5" cy="222.1" r="2.35"/>
<circle cx="213.4" cy="222.7" r="2.35"/>
<circle cx="192.5" cy="223.8" r="2.35"/>
<circle cx="190.2" cy="223.3" r="2.35"/>
<circle cx="190.9" cy="223.8" r="2.35"/>
<circle cx="191.0" cy="223.5" r="2.35"/>
<circle cx="195.2" cy="223.9" r="2.35"/>
<circle cx="201.6" cy="223.2" r="2.35"/>
<circle cx="184.9" cy="223.2" r="2.35"/>
<circle cx="187.8" cy="223.8" r="2.35"/>
<circle cx="188.7" cy="223.1" r="2.35"/>
<circle cx="183.2" cy="223.1" r="2.35"/>
<circle cx="180.2" cy="223.3" r="2.35"/>
<circle cx="182.1" cy="224.6" r="2.35"/>
<circle cx="185.1" cy="224.6" r="2.35"/>
<circle cx="170.4" cy="224.2" r="2.35"/>
<circle cx="207.6" cy="224.4" r="2.35"/>
<circle cx="198.0" cy="224.7" r="2.35"/>
<circle cx="210.2" cy="224.3" r="2.35"/>
<circle cx="197.7" cy="224.8" r="2.35"/>
<circle cx="199.3" cy="224.0" r="2.35"/>
<circle cx="180.5" cy="224.9" r="2.35"/>
<circle cx="167.6" cy="224.3" r="2.35"/>
<circle cx="194.0" cy="224.2" r="2.35"/>
<circle cx="186.0" cy="225.4" r="2.35"/>
<circle cx="195.8" cy="225.6" r="2.35"/>
<circle cx="204.7" cy="225.4" r="2.35"/>
<circle cx="191.1" cy="225.5" r="2.35"/>
<circle cx="204.0" cy="225.8" r="2.35"/>
<circle cx="203.3" cy="225.9" r="2.35"/>
<circle cx="182.8" cy="225.4" r="2.35"/>
<circle cx="207.1" cy="225.8" r="2.35"/>
<circle cx="212.5" cy="226.0" r="2.35"/>
<circle cx="199.5" cy="225.5" r="2.35"/>
<circle cx="176.5" cy="225.5" r="2.35"/>
<circle cx="189.6" cy="227.0" r="2.35"/>
<circle cx="192.0" cy="226.1" r="2.35"/>
<circle cx="198.1" cy="226.3" r="2.35"/>
<circle cx="192.0" cy="226.1" r="2.35"/>
<circle cx="188.1" cy="226.7" r="2.35"/>
<circle cx="191.5" cy="226.6" r="2.35"/>
<circle cx="192.9" cy="226.6" r="2.35"/>
<circle cx="172.7" cy="226.1" r="2.35"/>
<circle cx="188.2" cy="226.9" r="2.35"/>
<circle cx="190.0" cy="226.1" r="2.35"/>
<circle cx="187.3" cy="226.5" r="2.35"/>
<circle cx="181.3" cy="226.1" r="2.35"/>
<circle cx="190.8" cy="227.1" r="2.35"/>
<circle cx="171.1" cy="227.1" r="2.35"/>
<circle cx="178.0" cy="227.6" r="2.35"/>
<circle cx="190.7" cy="227.8" r="2.35"/>
<circle cx="183.8" cy="227.9" r="2.35"/>
<circle cx="181.4" cy="227.8" r="2.35"/>
<circle cx="198.9" cy="227.5" r="2.35"/>
<circle cx="168.5" cy="227.8" r="2.35"/>
<circle cx="208.1" cy="227.3" r="2.35"/>
<circle cx="191.5" cy="227.4" r="2.35"/>
<circle cx="201.6" cy="228.0" r="2.35"/>
<circle cx="209.8" cy="228.8" r="2.35"/>
<circle cx="179.5" cy="228.1" r="2.35"/>
<circle cx="161.0" cy="228.9" r="2.35"/>
<circle cx="187.7" cy="228.2" r="2.35"/>
<circle cx="176.0" cy="228.4" r="2.35"/>
<circle cx="199.0" cy="228.5" r="2.35"/>
<circle cx="202.6" cy="228.5" r="2.35"/>
<circle cx="196.4" cy="228.0" r="2.35"/>
<circle cx="211.3" cy="228.8" r="2.35"/>
<circle cx="215.4" cy="228.9" r="2.35"/>
<circle cx="176.4" cy="228.9" r="2.35"/>
<circle cx="174.7" cy="229.0" r="2.35"/>
<circle cx="185.1" cy="229.7" r="2.35"/>
<circle cx="183.7" cy="229.3" r="2.35"/>
<circle cx="164.4" cy="229.6" r="2.35"/>
<circle cx="183.9" cy="229.3" r="2.35"/>
<circle cx="178.2" cy="230.0" r="2.35"/>
<circle cx="189.5" cy="229.3" r="2.35"/>
<circle cx="185.1" cy="229.1" r="2.35"/>
<circle cx="207.6" cy="229.6" r="2.35"/>
<circle cx="205.2" cy="229.3" r="2.35"/>
<circle cx="187.1" cy="229.5" r="2.35"/>
<circle cx="195.0" cy="230.1" r="2.35"/>
<circle cx="196.3" cy="230.3" r="2.35"/>
<circle cx="182.8" cy="230.2" r="2.35"/>
<circle cx="196.9" cy="230.1" r="2.35"/>
<circle cx="168.6" cy="230.6" r="2.35"/>
<circle cx="184.5" cy="230.6" r="2.35"/>
<circle cx="186.4" cy="230.7" r="2.35"/>
<circle cx="184.5" cy="230.5" r="2.35"/>
<circle cx="175.0" cy="230.5" r="2.35"/>
<circle cx="186.2" cy="230.3" r="2.35"/>
<circle cx="191.7" cy="230.5" r="2.35"/>
<circle cx="200.2" cy="231.6" r="2.35"/>
<circle cx="203.0" cy="231.9" r="2.35"/>
<circle cx="192.2" cy="231.2" r="2.35"/>
<circle cx="177.7" cy="231.3" r="2.35"/>
<circle cx="186.3" cy="232.0" r="2.35"/>
<circle cx="185.3" cy="231.2" r="2.35"/>
<circle cx="212.0" cy="231.1" r="2.35"/>
<circle cx="200.7" cy="231.1" r="2.35"/>
<circle cx="181.6" cy="231.4" r="2.35"/>
<circle cx="172.4" cy="231.1" r="2.35"/>
<circle cx="198.9" cy="231.2" r="2.35"/>
<circle cx="190.9" cy="232.3" r="2.35"/>
<circle cx="184.1" cy="232.4" r="2.35"/>
<circle cx="183.5" cy="232.8" r="2.35"/>
<circle cx="175.8" cy="232.8" r="2.35"/>
<circle cx="170.8" cy="232.7" r="2.35"/>
<circle cx="189.2" cy="232.8" r="2.35"/>
<circle cx="169.5" cy="232.7" r="2.35"/>
<circle cx="194.9" cy="232.9" r="2.35"/>
<circle cx="209.4" cy="232.0" r="2.35"/>
<circle cx="209.9" cy="232.8" r="2.35"/>
<circle cx="158.5" cy="233.6" r="2.35"/>
<circle cx="192.0" cy="233.4" r="2.35"/>
<circle cx="197.1" cy="233.6" r="2.35"/>
<circle cx="166.0" cy="233.4" r="2.35"/>
<circle cx="178.0" cy="233.7" r="2.35"/>
<circle cx="195.8" cy="233.3" r="2.35"/>
<circle cx="178.9" cy="233.4" r="2.35"/>
<circle cx="202.0" cy="233.3" r="2.35"/>
<circle cx="197.4" cy="233.5" r="2.35"/>
<circle cx="167.2" cy="233.4" r="2.35"/>
<circle cx="189.3" cy="234.6" r="2.35"/>
<circle cx="198.6" cy="234.6" r="2.35"/>
<circle cx="216.7" cy="234.3" r="2.35"/>
<circle cx="207.1" cy="234.8" r="2.35"/>
<circle cx="209.1" cy="234.2" r="2.35"/>
<circle cx="163.7" cy="234.4" r="2.35"/>
<circle cx="193.3" cy="234.0" r="2.35"/>
<circle cx="190.7" cy="234.6" r="2.35"/>
<circle cx="162.3" cy="234.8" r="2.35"/>
<circle cx="192.2" cy="234.5" r="2.35"/>
<circle cx="207.5" cy="234.5" r="2.35"/>
<circle cx="191.7" cy="235.4" r="2.35"/>
<circle cx="180.7" cy="235.4" r="2.35"/>
<circle cx="205.7" cy="235.9" r="2.35"/>
<circle cx="184.6" cy="235.1" r="2.35"/>
<circle cx="177.4" cy="235.4" r="2.35"/>
<circle cx="178.0" cy="235.6" r="2.35"/>
<circle cx="201.7" cy="235.9" r="2.35"/>
<circle cx="206.7" cy="235.4" r="2.35"/>
<circle cx="188.4" cy="235.6" r="2.35"/>
<circle cx="204.0" cy="235.5" r="2.35"/>
<circle cx="191.6" cy="236.2" r="2.35"/>
<circle cx="176.5" cy="236.8" r="2.35"/>
<circle cx="225.7" cy="236.5" r="2.35"/>
<circle cx="213.8" cy="236.7" r="2.35"/>
<circle cx="210.1" cy="236.8" r="2.35"/>
<circle cx="220.0" cy="236.4" r="2.35"/>
<circle cx="190.2" cy="236.2" r="2.35"/>
<circle cx="188.0" cy="236.5" r="2.35"/>
<circle cx="207.5" cy="236.2" r="2.35"/>
<circle cx="199.7" cy="236.6" r="2.35"/>
<circle cx="209.5" cy="238.0" r="2.35"/>
<circle cx="189.4" cy="237.4" r="2.35"/>
<circle cx="189.0" cy="237.8" r="2.35"/>
<circle cx="184.8" cy="237.0" r="2.35"/>
<circle cx="211.6" cy="237.3" r="2.35"/>
<circle cx="201.9" cy="237.7" r="2.35"/>
<circle cx="177.0" cy="237.2" r="2.35"/>
<circle cx="174.8" cy="237.3" r="2.35"/>
<circle cx="192.3" cy="237.6" r="2.35"/>
<circle cx="146.5" cy="237.6" r="2.35"/>
<circle cx="182.9" cy="238.1" r="2.35"/>
<circle cx="205.0" cy="238.1" r="2.35"/>
<circle cx="211.5" cy="238.1" r="2.35"/>
<circle cx="200.2" cy="238.8" r="2.35"/>
<circle cx="206.9" cy="238.6" r="2.35"/>
<circle cx="193.9" cy="238.0" r="2.35"/>
<circle cx="187.6" cy="238.8" r="2.35"/>
<circle cx="182.5" cy="238.4" r="2.35"/>
<circle cx="211.8" cy="238.2" r="2.35"/>
<circle cx="191.5" cy="238.9" r="2.35"/>
<circle cx="198.6" cy="239.3" r="2.35"/>
<circle cx="179.2" cy="239.1" r="2.35"/>
<circle cx="196.6" cy="239.9" r="2.35"/>
<circle cx="161.6" cy="239.4" r="2.35"/>
<circle cx="174.8" cy="239.6" r="2.35"/>
<circle cx="192.3" cy="239.9" r="2.35"/>
<circle cx="196.5" cy="239.9" r="2.35"/>
<circle cx="180.5" cy="239.8" r="2.35"/>
<circle cx="219.7" cy="239.3" r="2.35"/>
<circle cx="164.0" cy="239.5" r="2.35"/>
<circle cx="170.9" cy="240.2" r="2.35"/>
<circle cx="175.1" cy="240.2" r="2.35"/>
<circle cx="206.8" cy="240.3" r="2.35"/>
<circle cx="203.9" cy="240.8" r="2.35"/>
<circle cx="180.9" cy="240.2" r="2.35"/>
<circle cx="198.6" cy="240.2" r="2.35"/>
<circle cx="204.2" cy="241.0" r="2.35"/>
<circle cx="187.8" cy="240.1" r="2.35"/>
<circle cx="210.0" cy="240.5" r="2.35"/>
<circle cx="188.2" cy="241.1" r="2.35"/>
<circle cx="195.5" cy="241.8" r="2.35"/>
<circle cx="186.2" cy="241.2" r="2.35"/>
<circle cx="201.1" cy="241.3" r="2.35"/>
<circle cx="192.8" cy="241.7" r="2.35"/>
<circle cx="196.3" cy="241.3" r="2.35"/>
<circle cx="205.0" cy="241.1" r="2.35"/>
<circle cx="211.1" cy="241.3" r="2.35"/>
<circle cx="196.3" cy="241.4" r="2.35"/>
<circle cx="186.1" cy="241.8" r="2.35"/>
<circle cx="199.9" cy="242.7" r="2.35"/>
<circle cx="204.0" cy="242.4" r="2.35"/>
<circle cx="202.2" cy="243.0" r="2.35"/>
<circle cx="190.1" cy="242.5" r="2.35"/>
<circle cx="194.9" cy="242.1" r="2.35"/>
<circle cx="208.4" cy="242.7" r="2.35"/>
<circle cx="190.6" cy="242.6" r="2.35"/>
<circle cx="223.6" cy="242.4" r="2.35"/>
<circle cx="193.1" cy="242.2" r="2.35"/>
<circle cx="212.8" cy="243.1" r="2.35"/>
<circle cx="174.5" cy="243.3" r="2.35"/>
<circle cx="191.3" cy="243.8" r="2.35"/>
<circle cx="176.7" cy="243.6" r="2.35"/>
<circle cx="207.0" cy="243.3" r="2.35"/>
<circle cx="188.0" cy="243.2" r="2.35"/>
<circle cx="196.7" cy="243.9" r="2.35"/>
<circle cx="183.4" cy="243.1" r="2.35"/>
<circle cx="212.2" cy="243.6" r="2.35"/>
<circle cx="180.4" cy="244.1" r="2.35"/>
<circle cx="192.9" cy="244.3" r="2.35"/>
<circle cx="194.0" cy="244.7" r="2.35"/>
<circle cx="200.5" cy="244.3" r="2.35"/>
<circle cx="166.2" cy="244.8" r="2.35"/>
<circle cx="211.4" cy="244.9" r="2.35"/>
<circle cx="198.0" cy="244.3" r="2.35"/>
<circle cx="186.8" cy="244.0" r="2.35"/>
<circle cx="183.5" cy="244.4" r="2.35"/>
<circle cx="173.1" cy="244.4" r="2.35"/>
<circle cx="189.4" cy="245.8" r="2.35"/>
<circle cx="182.2" cy="245.4" r="2.35"/>
<circle cx="186.4" cy="245.1" r="2.35"/>
<circle cx="186.1" cy="245.9" r="2.35"/>
<circle cx="190.6" cy="245.0" r="2.35"/>
<circle cx="169.4" cy="245.0" r="2.35"/>
<circle cx="198.2" cy="245.3" r="2.35"/>
<circle cx="201.5" cy="245.4" r="2.35"/>
<circle cx="205.6" cy="245.6" r="2.35"/>
<circle cx="196.3" cy="246.8" r="2.35"/>
<circle cx="171.2" cy="246.3" r="2.35"/>
<circle cx="182.8" cy="246.4" r="2.35"/>
<circle cx="187.4" cy="246.0" r="2.35"/>
<circle cx="180.1" cy="246.8" r="2.35"/>
<circle cx="195.1" cy="246.0" r="2.35"/>
<circle cx="180.7" cy="246.9" r="2.35"/>
<circle cx="189.4" cy="246.2" r="2.35"/>
<circle cx="190.1" cy="246.1" r="2.35"/>
<circle cx="201.7" cy="247.7" r="2.35"/>
<circle cx="226.4" cy="247.1" r="2.35"/>
<circle cx="187.9" cy="247.7" r="2.35"/>
<circle cx="178.6" cy="247.8" r="2.35"/>
<circle cx="191.8" cy="247.9" r="2.35"/>
<circle cx="199.7" cy="247.4" r="2.35"/>
<circle cx="214.6" cy="247.7" r="2.35"/>
<circle cx="183.1" cy="247.8" r="2.35"/>
<circle cx="188.2" cy="248.7" r="2.35"/>
<circle cx="194.8" cy="248.4" r="2.35"/>
<circle cx="157.3" cy="248.1" r="2.35"/>
<circle cx="190.5" cy="248.8" r="2.35"/>
<circle cx="216.8" cy="248.8" r="2.35"/>
<circle cx="199.9" cy="248.3" r="2.35"/>
<circle cx="153.5" cy="248.6" r="2.35"/>
<circle cx="181.3" cy="248.5" r="2.35"/>
<circle cx="207.3" cy="249.4" r="2.35"/>
<circle cx="198.8" cy="249.2" r="2.35"/>
<circle cx="190.1" cy="249.7" r="2.35"/>
<circle cx="201.3" cy="249.7" r="2.35"/>
<circle cx="194.2" cy="249.5" r="2.35"/>
<circle cx="205.1" cy="249.4" r="2.35"/>
<circle cx="206.9" cy="249.3" r="2.35"/>
<circle cx="187.5" cy="249.9" r="2.35"/>
<circle cx="180.0" cy="250.8" r="2.35"/>
<circle cx="187.8" cy="250.5" r="2.35"/>
<circle cx="194.0" cy="250.7" r="2.35"/>
<circle cx="183.6" cy="250.6" r="2.35"/>
<circle cx="166.7" cy="250.8" r="2.35"/>
<circle cx="200.0" cy="250.1" r="2.35"/>
<circle cx="189.6" cy="250.2" r="2.35"/>
<circle cx="208.2" cy="250.1" r="2.35"/>
<circle cx="201.8" cy="251.4" r="2.35"/>
<circle cx="217.5" cy="251.1" r="2.35"/>
<circle cx="185.2" cy="251.4" r="2.35"/>
<circle cx="209.9" cy="251.2" r="2.35"/>
<circle cx="195.6" cy="252.0" r="2.35"/>
<circle cx="194.5" cy="251.8" r="2.35"/>
<circle cx="216.0" cy="252.0" r="2.35"/>
<circle cx="206.8" cy="252.1" r="2.35"/>
<circle cx="175.8" cy="252.2" r="2.35"/>
<circle cx="194.8" cy="252.5" r="2.35"/>
<circle cx="230.8" cy="252.6" r="2.35"/>
<circle cx="195.5" cy="252.6" r="2.35"/>
<circle cx="215.7" cy="252.3" r="2.35"/>
<circle cx="184.0" cy="252.2" r="2.35"/>
<circle cx="222.2" cy="253.8" r="2.35"/>
<circle cx="198.6" cy="253.3" r="2.35"/>
<circle cx="203.1" cy="253.8" r="2.35"/>
<circle cx="215.7" cy="253.9" r="2.35"/>
<circle cx="208.1" cy="253.8" r="2.35"/>
<circle cx="219.3" cy="253.7" r="2.35"/>
<circle cx="188.6" cy="253.8" r="2.35"/>
<circle cx="203.4" cy="254.4" r="2.35"/>
<circle cx="178.1" cy="254.8" r="2.35"/>
<circle cx="188.5" cy="254.2" r="2.35"/>
<circle cx="215.0" cy="254.6" r="2.35"/>
<circle cx="199.4" cy="254.8" r="2.35"/>
<circle cx="183.5" cy="254.9" r="2.35"/>
<circle cx="157.7" cy="255.5" r="2.35"/>
<circle cx="201.8" cy="255.6" r="2.35"/>
<circle cx="206.0" cy="255.1" r="2.35"/>
<circle cx="189.8" cy="255.4" r="2.35"/>
<circle cx="184.2" cy="256.0" r="2.35"/>
<circle cx="197.9" cy="255.4" r="2.35"/>
<circle cx="196.5" cy="256.7" r="2.35"/>
<circle cx="227.5" cy="256.9" r="2.35"/>
<circle cx="194.4" cy="256.8" r="2.35"/>
<circle cx="181.1" cy="256.7" r="2.35"/>
<circle cx="200.3" cy="256.5" r="2.35"/>
<circle cx="179.8" cy="256.4" r="2.35"/>
<circle cx="201.6" cy="257.8" r="2.35"/>
<circle cx="202.7" cy="257.3" r="2.35"/>
<circle cx="187.9" cy="257.4" r="2.35"/>
<circle cx="178.8" cy="257.2" r="2.35"/>
<circle cx="187.5" cy="257.1" r="2.35"/>
<circle cx="147.5" cy="258.9" r="2.35"/>
<circle cx="205.8" cy="258.9" r="2.35"/>
<circle cx="239.4" cy="258.6" r="2.35"/>
<circle cx="186.6" cy="258.8" r="2.35"/>
<circle cx="219.1" cy="258.6" r="2.35"/>
<circle cx="204.2" cy="259.6" r="2.35"/>
<circle cx="214.1" cy="259.6" r="2.35"/>
<circle cx="188.0" cy="259.3" r="2.35"/>
<circle cx="173.0" cy="259.0" r="2.35"/>
<circle cx="226.3" cy="260.7" r="2.35"/>
<circle cx="186.7" cy="260.7" r="2.35"/>
<circle cx="196.7" cy="260.4" r="2.35"/>
<circle cx="177.3" cy="260.5" r="2.35"/>
<circle cx="184.7" cy="261.4" r="2.35"/>
<circle cx="203.2" cy="261.9" r="2.35"/>
<circle cx="202.0" cy="261.5" r="2.35"/>
<circle cx="222.8" cy="261.3" r="2.35"/>
<circle cx="219.0" cy="262.5" r="2.35"/>
<circle cx="194.1" cy="262.6" r="2.35"/>
<circle cx="216.5" cy="262.2" r="2.35"/>
<circle cx="185.9" cy="262.5" r="2.35"/>
<circle cx="190.2" cy="263.1" r="2.35"/>
<circle cx="188.0" cy="263.4" r="2.35"/>
<circle cx="198.5" cy="263.9" r="2.35"/>
<circle cx="187.1" cy="264.1" r="2.35"/>
<circle cx="162.1" cy="265.0" r="2.35"/>
<circle cx="192.8" cy="264.8" r="2.35"/>
<circle cx="185.4" cy="265.2" r="2.35"/>
<circle cx="219.4" cy="265.8" r="2.35"/>
<circle cx="188.1" cy="265.1" r="2.35"/>
<circle cx="208.5" cy="266.4" r="2.35"/>
<circle cx="199.8" cy="266.0" r="2.35"/>
<circle cx="182.9" cy="266.3" r="2.35"/>
<circle cx="186.7" cy="267.4" r="2.35"/>
<circle cx="216.6" cy="267.9" r="2.35"/>
<circle cx="176.0" cy="268.9" r="2.35"/>
<circle cx="203.4" cy="268.7" r="2.35"/>
<circle cx="185.5" cy="269.8" r="2.35"/>
<circle cx="178.1" cy="269.1" r="2.35"/>
<circle cx="158.6" cy="270.7" r="2.35"/>
<circle cx="227.3" cy="270.0" r="2.35"/>
<circle cx="183.8" cy="271.1" r="2.35"/>
<circle cx="157.6" cy="271.1" r="2.35"/>
<circle cx="183.0" cy="272.7" r="2.35"/>
<circle cx="203.4" cy="273.8" r="2.35"/>
<circle cx="217.4" cy="273.6" r="2.35"/>
<circle cx="205.6" cy="274.8" r="2.35"/>
<circle cx="196.4" cy="274.2" r="2.35"/>
<circle cx="186.7" cy="275.4" r="2.35"/>
<circle cx="227.5" cy="276.9" r="2.35"/>
<circle cx="180.2" cy="277.9" r="2.35"/>
<circle cx="157.9" cy="278.3" r="2.35"/>
<circle cx="150.3" cy="279.8" r="2.35"/>
<circle cx="194.5" cy="280.2" r="2.35"/>
</g>
<line x1="208.80" y1="57.40" x2="208.40" y2="71.20" stroke="#999999" stroke-width="0.8"/>
<line x1="235.50" y1="84.00" x2="204.60" y2="117.90" stroke="#999999" stroke-width="0.8"/>
<line x1="240.70" y1="96.30" x2="225.10" y2="114.60" stroke="#999999" stroke-width="0.8"/>
<line x1="247.00" y1="105.50" x2="222.80" y2="118.70" stroke="#999999" stroke-width="0.8"/>
<line x1="197.30" y1="103.60" x2="197.70" y2="141.00" stroke="#999999" stroke-width="0.8"/>
<line x1="249.70" y1="118.30" x2="215.60" y2="145.80" stroke="#999999" stroke-width="0.8"/>
<line x1="256.60" y1="128.70" x2="228.50" y2="145.20" stroke="#999999" stroke-width="0.8"/>
<line x1="261.70" y1="137.30" x2="228.50" y2="147.90" stroke="#999999" stroke-width="0.8"/>
<line x1="253.10" y1="150.50" x2="218.00" y2="148.30" stroke="#999999" stroke-width="0.8"/>
<line x1="248.40" y1="160.00" x2="211.90" y2="151.30" stroke="#999999" stroke-width="0.8"/>
<line x1="236.50" y1="183.50" x2="208.00" y2="166.00" stroke="#999999" stroke-width="0.8"/>
<line x1="228.90" y1="195.80" x2="209.90" y2="182.50" stroke="#999999" stroke-width="0.8"/>
<line x1="156.10" y1="193.80" x2="165.70" y2="202.40" stroke="#999999" stroke-width="0.8"/>
<text x="207.80" y="55.50" font-size="11" font-weight="bold" font-style="italic" fill="#000" text-anchor="start"  stroke="#000" stroke-width="0.25" stroke-linejoin="round">cagA</text>
<text x="237.30" y="85.50" font-size="10.45" font-weight="normal" font-style="italic" fill="#7f7f7f" text-anchor="start" >ureI</text>
<text x="242.40" y="97.00" font-size="10.45" font-weight="normal" font-style="italic" fill="#7f7f7f" text-anchor="start" >vacA3</text>
<text x="248.10" y="108.70" font-size="11" font-weight="bold" font-style="italic" fill="#000" text-anchor="start"  stroke="#000" stroke-width="0.25" stroke-linejoin="round">hofC</text>
<text x="251.50" y="120.20" font-size="11" font-weight="bold" font-style="italic" fill="#000" text-anchor="start"  stroke="#000" stroke-width="0.25" stroke-linejoin="round">hopE</text>
<text x="257.40" y="130.40" font-size="11" font-weight="bold" font-style="italic" fill="#000" text-anchor="start"  stroke="#000" stroke-width="0.25" stroke-linejoin="round">omp14</text>
<text x="262.80" y="142.10" font-size="11.3" font-weight="bold" font-style="normal" fill="#000" text-anchor="start"  stroke="#000" stroke-width="0.25" stroke-linejoin="round">HP0410</text>
<text x="254.60" y="152.60" font-size="10.5" font-weight="bold" font-style="italic" fill="#000" text-anchor="start"  stroke="#000" stroke-width="0.25" stroke-linejoin="round">horB</text>
<text x="249.20" y="164.00" font-size="11.45" font-weight="bold" font-style="normal" fill="#000" text-anchor="start"  stroke="#000" stroke-width="0.25" stroke-linejoin="round">HELPY_1262</text>
<rect x="182.6" y="93.6" width="39.6" height="9.6" fill="#fff"/>
<text x="182.30" y="102.10" font-size="11" font-weight="bold" font-style="normal" fill="#000" text-anchor="start"  stroke="#000" stroke-width="0.25" stroke-linejoin="round">HP1227</text>
<text x="246.00" y="175.90" font-size="10.45" font-weight="normal" font-style="normal" fill="#7f7f7f" text-anchor="start" >HP0487</text>
<text x="237.20" y="187.90" font-size="10.45" font-weight="normal" font-style="normal" fill="#7f7f7f" text-anchor="start" >pAL226p12</text>
<text x="229.80" y="200.90" font-size="10.45" font-weight="normal" font-style="normal" fill="#7f7f7f" text-anchor="start" >HELPY_0813</text>
<text x="257.40" y="214.50" font-size="10.45" font-weight="normal" font-style="italic" fill="#7f7f7f" text-anchor="start" >mraW</text>
<text x="112.60" y="154.90" font-size="10.45" font-weight="normal" font-style="italic" fill="#7f7f7f" text-anchor="start" >ureE</text>
<text x="139.00" y="194.80" font-size="10.45" font-weight="normal" font-style="italic" fill="#7f7f7f" text-anchor="start" >fliK</text>
<text x="56.30" y="209.00" font-size="10.45" font-weight="normal" font-style="normal" fill="#7f7f7f" text-anchor="start" >HPAG1_1315</text>
<text x="32.70" y="11.70" font-size="11.9" font-weight="normal" font-style="normal" fill="#000" text-anchor="end" >20</text>
<text x="32.70" y="88.05" font-size="11.9" font-weight="normal" font-style="normal" fill="#000" text-anchor="end" >15</text>
<text x="32.70" y="164.40" font-size="11.9" font-weight="normal" font-style="normal" fill="#000" text-anchor="end" >10</text>
<text x="32.70" y="240.75" font-size="11.9" font-weight="normal" font-style="normal" fill="#000" text-anchor="end" >5</text>
<text x="32.70" y="317.10" font-size="11.9" font-weight="normal" font-style="normal" fill="#000" text-anchor="end" >0</text>
<text x="37.49" y="359.70" font-size="11.9" font-weight="normal" font-style="normal" fill="#000" text-anchor="middle" >-4</text>
<text x="108.57" y="359.70" font-size="11.9" font-weight="normal" font-style="normal" fill="#000" text-anchor="middle" >-2</text>
<text x="179.65" y="359.70" font-size="11.9" font-weight="normal" font-style="normal" fill="#000" text-anchor="middle" >0</text>
<text x="250.73" y="359.70" font-size="11.9" font-weight="normal" font-style="normal" fill="#000" text-anchor="middle" >2</text>
<text x="321.81" y="359.70" font-size="11.9" font-weight="normal" font-style="normal" fill="#000" text-anchor="middle" >4</text>
<text x="58.6" y="380.8" font-size="11.25" fill="#000">LOG2 fold change (Δ<tspan font-style="italic">hpnc4160-hpnc4170</tspan> / WT)</text>
<text transform="translate(7.9,262) rotate(-90)" font-size="11.42" fill="#000">Average LOG2 normalized expression</text>
<text x="1.60" y="9.20" font-size="12" font-weight="bold" font-style="normal" fill="#000" text-anchor="start"  stroke="#000" stroke-width="0.25" stroke-linejoin="round">a</text>
<line x1="394.50" y1="6.00" x2="394.50" y2="344.50" stroke="#8e8e8e" stroke-width="1.0"/>
<line x1="394.00" y1="6.50" x2="679.10" y2="6.50" stroke="#9a9a9a" stroke-width="1.0"/>
<line x1="678.60" y1="6.00" x2="678.60" y2="344.50" stroke="#8e8e8e" stroke-width="1.0"/>
<line x1="394.00" y1="343.90" x2="679.10" y2="343.90" stroke="#c4c4c4" stroke-width="1.3"/>
<line x1="394.60" y1="304.20" x2="678.80" y2="304.20" stroke="#c8c8c8" stroke-width="0.9"/>
<line x1="536.45" y1="6.50" x2="536.45" y2="343.60" stroke="#7a7a7a" stroke-width="1.0"/>
<line x1="394.60" y1="343.50" x2="400.10" y2="343.50" stroke="#858585" stroke-width="0.9"/>
<line x1="394.60" y1="323.50" x2="397.60" y2="323.50" stroke="#858585" stroke-width="0.9"/>
<line x1="394.60" y1="303.50" x2="397.60" y2="303.50" stroke="#858585" stroke-width="0.9"/>
<line x1="394.60" y1="284.50" x2="397.60" y2="284.50" stroke="#858585" stroke-width="0.9"/>
<line x1="394.60" y1="264.50" x2="397.60" y2="264.50" stroke="#858585" stroke-width="0.9"/>
<line x1="394.60" y1="244.50" x2="400.10" y2="244.50" stroke="#858585" stroke-width="0.9"/>
<line x1="394.60" y1="224.50" x2="397.60" y2="224.50" stroke="#858585" stroke-width="0.9"/>
<line x1="394.60" y1="204.50" x2="397.60" y2="204.50" stroke="#858585" stroke-width="0.9"/>
<line x1="394.60" y1="184.50" x2="397.60" y2="184.50" stroke="#858585" stroke-width="0.9"/>
<line x1="394.60" y1="165.50" x2="397.60" y2="165.50" stroke="#858585" stroke-width="0.9"/>
<line x1="394.60" y1="145.50" x2="400.10" y2="145.50" stroke="#858585" stroke-width="0.9"/>
<line x1="394.60" y1="125.50" x2="397.60" y2="125.50" stroke="#858585" stroke-width="0.9"/>
<line x1="394.60" y1="105.50" x2="397.60" y2="105.50" stroke="#858585" stroke-width="0.9"/>
<line x1="394.60" y1="85.50" x2="397.60" y2="85.50" stroke="#858585" stroke-width="0.9"/>
<line x1="394.60" y1="66.50" x2="397.60" y2="66.50" stroke="#858585" stroke-width="0.9"/>
<line x1="394.60" y1="46.50" x2="400.10" y2="46.50" stroke="#858585" stroke-width="0.9"/>
<line x1="394.60" y1="26.50" x2="397.60" y2="26.50" stroke="#858585" stroke-width="0.9"/>
<line x1="394.60" y1="6.50" x2="397.60" y2="6.50" stroke="#858585" stroke-width="0.9"/>
<line x1="441.70" y1="343.60" x2="441.70" y2="338.80" stroke="#7a7a7a" stroke-width="0.8"/>
<line x1="489.08" y1="343.60" x2="489.08" y2="338.80" stroke="#7a7a7a" stroke-width="0.8"/>
<line x1="583.83" y1="343.60" x2="583.83" y2="338.80" stroke="#7a7a7a" stroke-width="0.8"/>
<line x1="631.20" y1="343.60" x2="631.20" y2="338.80" stroke="#7a7a7a" stroke-width="0.8"/>
<g fill="none" stroke="#161616" stroke-width="0.74">
<circle cx="492.0" cy="305.2" r="2.35"/>
<circle cx="499.1" cy="310.1" r="2.35"/>
<circle cx="506.6" cy="311.2" r="2.35"/>
<circle cx="511.0" cy="312.9" r="2.35"/>
<circle cx="509.3" cy="315.4" r="2.35"/>
<circle cx="516.3" cy="304.2" r="2.35"/>
<circle cx="519.9" cy="309.1" r="2.35"/>
<circle cx="527.3" cy="310.5" r="2.35"/>
<circle cx="476.5" cy="339.3" r="2.35"/>
<circle cx="483.9" cy="330.9" r="2.35"/>
<circle cx="489.6" cy="332.3" r="2.35"/>
<circle cx="494.1" cy="330.2" r="2.35"/>
<circle cx="496.2" cy="326.0" r="2.35"/>
<circle cx="497.7" cy="331.9" r="2.35"/>
<circle cx="494.9" cy="336.6" r="2.35"/>
<circle cx="499.1" cy="339.7" r="2.35"/>
<circle cx="503.4" cy="339.1" r="2.35"/>
<circle cx="507.2" cy="324.9" r="2.35"/>
<circle cx="507.2" cy="330.2" r="2.35"/>
<circle cx="507.2" cy="333.4" r="2.35"/>
<circle cx="511.4" cy="329.2" r="2.35"/>
<circle cx="512.5" cy="334.5" r="2.35"/>
<circle cx="511.0" cy="339.1" r="2.35"/>
<circle cx="515.7" cy="322.8" r="2.35"/>
<circle cx="516.7" cy="318.6" r="2.35"/>
<circle cx="522.0" cy="315.4" r="2.35"/>
<circle cx="563.4" cy="307.8" r="2.35"/>
<circle cx="566.0" cy="315.1" r="2.35"/>
<circle cx="576.5" cy="316.2" r="2.35"/>
<circle cx="552.4" cy="309.6" r="2.35"/>
<circle cx="548.0" cy="310.3" r="2.35"/>
<circle cx="544.4" cy="313.2" r="2.35"/>
<circle cx="573.9" cy="328.3" r="2.35"/>
<circle cx="574.3" cy="332.2" r="2.35"/>
<circle cx="579.7" cy="333.7" r="2.35"/>
<circle cx="585.5" cy="328.6" r="2.35"/>
<circle cx="591.4" cy="331.5" r="2.35"/>
<circle cx="594.3" cy="335.1" r="2.35"/>
<circle cx="586.7" cy="338.8" r="2.35"/>
<circle cx="586.0" cy="340.3" r="2.35"/>
<circle cx="604.7" cy="327.8" r="2.35"/>
<circle cx="610.1" cy="333.0" r="2.35"/>
<circle cx="627.3" cy="332.2" r="2.35"/>
<circle cx="633.1" cy="334.4" r="2.35"/>
<circle cx="635.2" cy="328.6" r="2.35"/>
<circle cx="570.7" cy="332.7" r="2.35"/>
<circle cx="649.4" cy="337.4" r="2.35"/>
<circle cx="553.3" cy="314.4" r="2.35"/>
<circle cx="554.0" cy="321.2" r="2.35"/>
<circle cx="561.2" cy="318.9" r="2.35"/>
<circle cx="560.4" cy="322.0" r="2.35"/>
<circle cx="563.5" cy="323.5" r="2.35"/>
<circle cx="563.8" cy="325.3" r="2.35"/>
<circle cx="562.0" cy="327.6" r="2.35"/>
<circle cx="565.0" cy="329.9" r="2.35"/>
<circle cx="562.3" cy="330.6" r="2.35"/>
<circle cx="566.8" cy="332.5" r="2.35"/>
<circle cx="575.5" cy="333.6" r="2.35"/>
<circle cx="565.3" cy="336.6" r="2.35"/>
<circle cx="563.1" cy="338.1" r="2.35"/>
<circle cx="558.6" cy="324.6" r="2.35"/>
<circle cx="557.0" cy="329.9" r="2.35"/>
<circle cx="556.3" cy="326.8" r="2.35"/>
<circle cx="560.1" cy="334.4" r="2.35"/>
<circle cx="554.8" cy="333.6" r="2.35"/>
<circle cx="558.2" cy="336.6" r="2.35"/>
<circle cx="557.4" cy="340.4" r="2.35"/>
<circle cx="560.8" cy="340.4" r="2.35"/>
<circle cx="552.5" cy="340.4" r="2.35"/>
<circle cx="554.0" cy="317.8" r="2.35"/>
<circle cx="550.6" cy="312.5" r="2.35"/>
<circle cx="557.8" cy="322.7" r="2.35"/>
<circle cx="534.0" cy="336.6" r="2.35"/>
<circle cx="539.3" cy="337.6" r="2.35"/>
<circle cx="541.4" cy="328.9" r="2.35"/>
<circle cx="527.3" cy="323.1" r="2.35"/>
<circle cx="524.3" cy="322.8" r="2.35"/>
<circle cx="536.5" cy="343.2" r="2.35"/>
<circle cx="534.3" cy="339.7" r="2.35"/>
<circle cx="533.3" cy="337.9" r="2.35"/>
<circle cx="529.0" cy="329.1" r="2.35"/>
<circle cx="541.3" cy="336.4" r="2.35"/>
<circle cx="539.3" cy="337.8" r="2.35"/>
<circle cx="533.3" cy="336.7" r="2.35"/>
<circle cx="536.5" cy="343.4" r="2.35"/>
<circle cx="530.9" cy="333.5" r="2.35"/>
<circle cx="524.0" cy="332.7" r="2.35"/>
<circle cx="534.9" cy="342.0" r="2.35"/>
<circle cx="536.1" cy="343.0" r="2.35"/>
<circle cx="535.8" cy="342.6" r="2.35"/>
<circle cx="536.6" cy="343.2" r="2.35"/>
<circle cx="534.7" cy="341.2" r="2.35"/>
<circle cx="543.0" cy="322.4" r="2.35"/>
<circle cx="515.9" cy="323.7" r="2.35"/>
<circle cx="532.1" cy="338.4" r="2.35"/>
<circle cx="543.7" cy="329.2" r="2.35"/>
<circle cx="529.0" cy="324.9" r="2.35"/>
<circle cx="542.7" cy="330.1" r="2.35"/>
<circle cx="559.5" cy="333.2" r="2.35"/>
<circle cx="541.0" cy="330.0" r="2.35"/>
<circle cx="552.6" cy="323.6" r="2.35"/>
<circle cx="529.6" cy="330.1" r="2.35"/>
<circle cx="522.9" cy="332.9" r="2.35"/>
<circle cx="544.2" cy="322.7" r="2.35"/>
<circle cx="532.0" cy="334.9" r="2.35"/>
<circle cx="536.6" cy="343.0" r="2.35"/>
<circle cx="528.5" cy="328.8" r="2.35"/>
<circle cx="535.7" cy="342.6" r="2.35"/>
<circle cx="537.9" cy="340.8" r="2.35"/>
<circle cx="555.8" cy="329.4" r="2.35"/>
<circle cx="532.8" cy="336.0" r="2.35"/>
<circle cx="552.4" cy="315.4" r="2.35"/>
<circle cx="542.5" cy="331.7" r="2.35"/>
<circle cx="539.3" cy="339.0" r="2.35"/>
<circle cx="523.1" cy="320.4" r="2.35"/>
<circle cx="531.7" cy="338.4" r="2.35"/>
<circle cx="536.0" cy="342.7" r="2.35"/>
<circle cx="530.9" cy="332.1" r="2.35"/>
<circle cx="541.8" cy="334.8" r="2.35"/>
<circle cx="542.1" cy="326.0" r="2.35"/>
<circle cx="541.9" cy="339.8" r="2.35"/>
<circle cx="533.1" cy="338.8" r="2.35"/>
<circle cx="537.1" cy="342.6" r="2.35"/>
<circle cx="535.9" cy="343.1" r="2.35"/>
<circle cx="534.3" cy="340.7" r="2.35"/>
<circle cx="536.5" cy="343.4" r="2.35"/>
<circle cx="537.4" cy="342.5" r="2.35"/>
<circle cx="533.7" cy="340.4" r="2.35"/>
<circle cx="537.8" cy="340.1" r="2.35"/>
<circle cx="537.0" cy="342.2" r="2.35"/>
<circle cx="541.2" cy="338.6" r="2.35"/>
<circle cx="533.0" cy="335.1" r="2.35"/>
<circle cx="538.6" cy="339.6" r="2.35"/>
<circle cx="537.3" cy="342.3" r="2.35"/>
<circle cx="534.2" cy="338.7" r="2.35"/>
<circle cx="534.2" cy="341.9" r="2.35"/>
<circle cx="532.2" cy="339.0" r="2.35"/>
<circle cx="542.4" cy="330.8" r="2.35"/>
<circle cx="536.1" cy="342.7" r="2.35"/>
<circle cx="531.2" cy="333.1" r="2.35"/>
<circle cx="537.0" cy="342.5" r="2.35"/>
<circle cx="542.3" cy="336.4" r="2.35"/>
<circle cx="530.4" cy="329.5" r="2.35"/>
<circle cx="533.2" cy="341.5" r="2.35"/>
<circle cx="534.2" cy="338.8" r="2.35"/>
<circle cx="541.5" cy="326.3" r="2.35"/>
<circle cx="538.6" cy="340.5" r="2.35"/>
<circle cx="528.7" cy="332.4" r="2.35"/>
<circle cx="525.7" cy="330.1" r="2.35"/>
<circle cx="538.5" cy="339.4" r="2.35"/>
<circle cx="536.3" cy="343.2" r="2.35"/>
<circle cx="539.0" cy="340.4" r="2.35"/>
<circle cx="530.6" cy="333.3" r="2.35"/>
<circle cx="532.5" cy="336.6" r="2.35"/>
<circle cx="535.2" cy="341.8" r="2.35"/>
<circle cx="533.0" cy="339.4" r="2.35"/>
<circle cx="538.4" cy="339.4" r="2.35"/>
<circle cx="535.0" cy="340.1" r="2.35"/>
<circle cx="532.3" cy="337.0" r="2.35"/>
<circle cx="534.3" cy="340.5" r="2.35"/>
<circle cx="541.1" cy="332.2" r="2.35"/>
<circle cx="541.6" cy="339.2" r="2.35"/>
<circle cx="530.3" cy="335.4" r="2.35"/>
<circle cx="536.7" cy="342.8" r="2.35"/>
<circle cx="542.2" cy="325.9" r="2.35"/>
<circle cx="542.4" cy="335.0" r="2.35"/>
<circle cx="535.3" cy="342.3" r="2.35"/>
<circle cx="535.0" cy="339.7" r="2.35"/>
<circle cx="539.0" cy="340.6" r="2.35"/>
<circle cx="541.2" cy="330.1" r="2.35"/>
<circle cx="536.7" cy="343.2" r="2.35"/>
<circle cx="541.7" cy="333.6" r="2.35"/>
<circle cx="535.5" cy="342.1" r="2.35"/>
<circle cx="540.3" cy="338.3" r="2.35"/>
<circle cx="527.1" cy="337.2" r="2.35"/>
<circle cx="534.8" cy="341.5" r="2.35"/>
<circle cx="530.7" cy="334.0" r="2.35"/>
<circle cx="539.5" cy="337.7" r="2.35"/>
<circle cx="535.6" cy="341.9" r="2.35"/>
<circle cx="536.2" cy="343.0" r="2.35"/>
<circle cx="541.7" cy="330.4" r="2.35"/>
<circle cx="539.0" cy="339.5" r="2.35"/>
<circle cx="535.6" cy="341.9" r="2.35"/>
<circle cx="537.4" cy="342.0" r="2.35"/>
<circle cx="551.4" cy="329.9" r="2.35"/>
<circle cx="534.6" cy="338.6" r="2.35"/>
<circle cx="534.1" cy="338.0" r="2.35"/>
<circle cx="536.7" cy="343.1" r="2.35"/>
<circle cx="530.8" cy="335.5" r="2.35"/>
<circle cx="534.9" cy="340.2" r="2.35"/>
<circle cx="538.4" cy="338.1" r="2.35"/>
<circle cx="525.1" cy="332.1" r="2.35"/>
<circle cx="541.8" cy="325.7" r="2.35"/>
<circle cx="530.9" cy="337.0" r="2.35"/>
<circle cx="531.8" cy="329.2" r="2.35"/>
<circle cx="535.4" cy="341.3" r="2.35"/>
<circle cx="528.4" cy="329.3" r="2.35"/>
<circle cx="547.1" cy="334.5" r="2.35"/>
<circle cx="545.5" cy="324.0" r="2.35"/>
<circle cx="531.0" cy="331.5" r="2.35"/>
<circle cx="533.8" cy="337.9" r="2.35"/>
<circle cx="532.3" cy="337.9" r="2.35"/>
<circle cx="541.7" cy="329.7" r="2.35"/>
<circle cx="537.2" cy="342.0" r="2.35"/>
<circle cx="537.6" cy="342.1" r="2.35"/>
<circle cx="534.9" cy="342.5" r="2.35"/>
<circle cx="543.9" cy="333.5" r="2.35"/>
<circle cx="535.7" cy="342.4" r="2.35"/>
<circle cx="530.0" cy="331.1" r="2.35"/>
<circle cx="535.5" cy="341.8" r="2.35"/>
<circle cx="538.5" cy="341.4" r="2.35"/>
<circle cx="546.4" cy="329.6" r="2.35"/>
<circle cx="537.2" cy="342.6" r="2.35"/>
<circle cx="538.1" cy="341.0" r="2.35"/>
<circle cx="534.0" cy="340.2" r="2.35"/>
<circle cx="550.1" cy="315.2" r="2.35"/>
<circle cx="533.4" cy="337.7" r="2.35"/>
<circle cx="543.1" cy="329.7" r="2.35"/>
<circle cx="536.4" cy="343.3" r="2.35"/>
<circle cx="536.1" cy="343.0" r="2.35"/>
<circle cx="537.9" cy="341.1" r="2.35"/>
<circle cx="543.4" cy="336.1" r="2.35"/>
<circle cx="533.9" cy="340.3" r="2.35"/>
<circle cx="534.9" cy="340.8" r="2.35"/>
<circle cx="526.9" cy="329.3" r="2.35"/>
<circle cx="537.7" cy="342.4" r="2.35"/>
<circle cx="533.3" cy="340.4" r="2.35"/>
<circle cx="538.6" cy="339.0" r="2.35"/>
<circle cx="536.6" cy="343.2" r="2.35"/>
<circle cx="537.9" cy="340.9" r="2.35"/>
<circle cx="537.3" cy="341.6" r="2.35"/>
<circle cx="540.3" cy="340.3" r="2.35"/>
<circle cx="535.3" cy="341.1" r="2.35"/>
<circle cx="528.5" cy="334.2" r="2.35"/>
<circle cx="532.5" cy="334.5" r="2.35"/>
<circle cx="536.7" cy="342.9" r="2.35"/>
<circle cx="540.7" cy="334.1" r="2.35"/>
<circle cx="539.9" cy="335.3" r="2.35"/>
<circle cx="538.7" cy="339.6" r="2.35"/>
<circle cx="538.2" cy="339.2" r="2.35"/>
<circle cx="530.6" cy="331.7" r="2.35"/>
<circle cx="531.0" cy="335.0" r="2.35"/>
<circle cx="546.9" cy="331.5" r="2.35"/>
<circle cx="536.6" cy="343.1" r="2.35"/>
<circle cx="536.4" cy="343.4" r="2.35"/>
<circle cx="538.4" cy="339.0" r="2.35"/>
<circle cx="522.2" cy="316.8" r="2.35"/>
<circle cx="529.3" cy="328.1" r="2.35"/>
<circle cx="527.5" cy="339.2" r="2.35"/>
<circle cx="541.7" cy="337.9" r="2.35"/>
<circle cx="541.0" cy="334.7" r="2.35"/>
<circle cx="548.3" cy="332.6" r="2.35"/>
<circle cx="528.3" cy="332.9" r="2.35"/>
<circle cx="544.7" cy="327.5" r="2.35"/>
<circle cx="527.4" cy="335.3" r="2.35"/>
<circle cx="536.5" cy="343.3" r="2.35"/>
<circle cx="521.5" cy="321.0" r="2.35"/>
<circle cx="536.3" cy="343.2" r="2.35"/>
<circle cx="529.2" cy="337.8" r="2.35"/>
<circle cx="536.6" cy="343.2" r="2.35"/>
<circle cx="531.7" cy="339.1" r="2.35"/>
<circle cx="525.6" cy="329.7" r="2.35"/>
<circle cx="541.4" cy="337.9" r="2.35"/>
<circle cx="530.6" cy="336.6" r="2.35"/>
<circle cx="538.5" cy="338.7" r="2.35"/>
<circle cx="536.5" cy="343.4" r="2.35"/>
<circle cx="538.4" cy="340.7" r="2.35"/>
<circle cx="538.4" cy="341.3" r="2.35"/>
<circle cx="541.3" cy="334.6" r="2.35"/>
<circle cx="542.6" cy="338.9" r="2.35"/>
<circle cx="538.4" cy="341.0" r="2.35"/>
<circle cx="537.3" cy="342.6" r="2.35"/>
<circle cx="520.4" cy="315.6" r="2.35"/>
<circle cx="533.3" cy="339.3" r="2.35"/>
<circle cx="540.5" cy="338.1" r="2.35"/>
<circle cx="540.1" cy="338.3" r="2.35"/>
<circle cx="532.4" cy="334.9" r="2.35"/>
<circle cx="538.4" cy="340.9" r="2.35"/>
<circle cx="555.2" cy="321.1" r="2.35"/>
<circle cx="533.5" cy="341.1" r="2.35"/>
<circle cx="532.1" cy="336.0" r="2.35"/>
<circle cx="542.6" cy="339.7" r="2.35"/>
<circle cx="540.0" cy="333.7" r="2.35"/>
<circle cx="532.7" cy="336.1" r="2.35"/>
<circle cx="525.9" cy="323.3" r="2.35"/>
<circle cx="533.5" cy="338.5" r="2.35"/>
<circle cx="534.5" cy="340.2" r="2.35"/>
<circle cx="552.0" cy="330.1" r="2.35"/>
<circle cx="544.7" cy="321.9" r="2.35"/>
<circle cx="524.0" cy="332.5" r="2.35"/>
<circle cx="531.5" cy="334.6" r="2.35"/>
<circle cx="538.0" cy="340.4" r="2.35"/>
<circle cx="534.8" cy="342.7" r="2.35"/>
<circle cx="535.4" cy="341.5" r="2.35"/>
<circle cx="539.8" cy="333.5" r="2.35"/>
<circle cx="524.0" cy="331.4" r="2.35"/>
<circle cx="532.3" cy="334.7" r="2.35"/>
<circle cx="546.7" cy="329.3" r="2.35"/>
<circle cx="537.3" cy="341.4" r="2.35"/>
<circle cx="542.9" cy="328.5" r="2.35"/>
<circle cx="537.3" cy="342.3" r="2.35"/>
<circle cx="540.2" cy="338.2" r="2.35"/>
<circle cx="536.3" cy="343.1" r="2.35"/>
<circle cx="538.7" cy="338.2" r="2.35"/>
<circle cx="555.5" cy="322.1" r="2.35"/>
<circle cx="550.3" cy="322.2" r="2.35"/>
<circle cx="528.3" cy="326.7" r="2.35"/>
<circle cx="541.0" cy="330.4" r="2.35"/>
<circle cx="532.7" cy="337.8" r="2.35"/>
<circle cx="536.6" cy="343.1" r="2.35"/>
<circle cx="538.9" cy="337.3" r="2.35"/>
<circle cx="535.9" cy="342.6" r="2.35"/>
<circle cx="537.4" cy="341.8" r="2.35"/>
<circle cx="537.2" cy="341.8" r="2.35"/>
<circle cx="536.7" cy="343.0" r="2.35"/>
<circle cx="535.4" cy="341.5" r="2.35"/>
<circle cx="543.6" cy="335.9" r="2.35"/>
<circle cx="527.3" cy="335.0" r="2.35"/>
<circle cx="542.1" cy="329.7" r="2.35"/>
<circle cx="523.9" cy="319.1" r="2.35"/>
<circle cx="530.0" cy="324.8" r="2.35"/>
<circle cx="529.5" cy="319.5" r="2.35"/>
<circle cx="533.0" cy="338.8" r="2.35"/>
<circle cx="529.3" cy="328.9" r="2.35"/>
<circle cx="530.4" cy="331.0" r="2.35"/>
<circle cx="531.4" cy="328.9" r="2.35"/>
<circle cx="544.3" cy="328.3" r="2.35"/>
<circle cx="535.5" cy="341.7" r="2.35"/>
<circle cx="522.1" cy="331.8" r="2.35"/>
<circle cx="538.7" cy="338.2" r="2.35"/>
<circle cx="540.5" cy="337.1" r="2.35"/>
<circle cx="534.8" cy="341.5" r="2.35"/>
<circle cx="539.2" cy="337.9" r="2.35"/>
<circle cx="534.0" cy="339.8" r="2.35"/>
<circle cx="539.2" cy="337.0" r="2.35"/>
<circle cx="531.2" cy="339.1" r="2.35"/>
<circle cx="543.6" cy="327.5" r="2.35"/>
<circle cx="541.4" cy="337.7" r="2.35"/>
<circle cx="536.4" cy="343.3" r="2.35"/>
<circle cx="533.5" cy="341.2" r="2.35"/>
<circle cx="534.4" cy="341.7" r="2.35"/>
<circle cx="540.5" cy="332.1" r="2.35"/>
<circle cx="543.1" cy="323.4" r="2.35"/>
<circle cx="539.7" cy="338.8" r="2.35"/>
<circle cx="542.9" cy="333.1" r="2.35"/>
<circle cx="543.4" cy="322.8" r="2.35"/>
<circle cx="531.5" cy="329.9" r="2.35"/>
<circle cx="535.4" cy="341.8" r="2.35"/>
<circle cx="528.5" cy="333.3" r="2.35"/>
<circle cx="534.0" cy="340.5" r="2.35"/>
<circle cx="533.2" cy="340.2" r="2.35"/>
<circle cx="536.8" cy="343.1" r="2.35"/>
<circle cx="540.4" cy="339.7" r="2.35"/>
<circle cx="543.4" cy="331.0" r="2.35"/>
<circle cx="558.5" cy="336.7" r="2.35"/>
<circle cx="544.2" cy="329.8" r="2.35"/>
<circle cx="532.0" cy="332.8" r="2.35"/>
<circle cx="528.5" cy="334.1" r="2.35"/>
<circle cx="538.9" cy="339.9" r="2.35"/>
<circle cx="543.8" cy="333.9" r="2.35"/>
<circle cx="539.6" cy="338.5" r="2.35"/>
<circle cx="529.3" cy="322.9" r="2.35"/>
<circle cx="528.9" cy="323.1" r="2.35"/>
<circle cx="539.6" cy="335.6" r="2.35"/>
<circle cx="532.5" cy="338.9" r="2.35"/>
<circle cx="526.2" cy="325.5" r="2.35"/>
<circle cx="551.8" cy="320.9" r="2.35"/>
<circle cx="538.6" cy="339.7" r="2.35"/>
<circle cx="535.4" cy="341.7" r="2.35"/>
<circle cx="542.6" cy="335.5" r="2.35"/>
<circle cx="536.6" cy="343.2" r="2.35"/>
<circle cx="532.8" cy="333.9" r="2.35"/>
<circle cx="540.0" cy="339.7" r="2.35"/>
<circle cx="538.4" cy="341.4" r="2.35"/>
<circle cx="540.8" cy="339.2" r="2.35"/>
<circle cx="529.8" cy="338.2" r="2.35"/>
<circle cx="542.4" cy="337.4" r="2.35"/>
<circle cx="542.9" cy="337.7" r="2.35"/>
<circle cx="538.1" cy="341.9" r="2.35"/>
<circle cx="532.1" cy="331.3" r="2.35"/>
<circle cx="536.1" cy="342.8" r="2.35"/>
<circle cx="525.8" cy="336.8" r="2.35"/>
<circle cx="538.2" cy="342.5" r="2.35"/>
<circle cx="539.0" cy="338.4" r="2.35"/>
<circle cx="536.5" cy="343.3" r="2.35"/>
<circle cx="530.9" cy="339.0" r="2.35"/>
<circle cx="535.1" cy="342.5" r="2.35"/>
<circle cx="540.1" cy="338.6" r="2.35"/>
<circle cx="528.2" cy="321.3" r="2.35"/>
<circle cx="561.8" cy="328.7" r="2.35"/>
<circle cx="541.8" cy="333.3" r="2.35"/>
<circle cx="537.8" cy="340.8" r="2.35"/>
<circle cx="525.6" cy="329.5" r="2.35"/>
<circle cx="530.4" cy="326.7" r="2.35"/>
<circle cx="531.2" cy="337.8" r="2.35"/>
<circle cx="533.9" cy="338.5" r="2.35"/>
<circle cx="532.2" cy="340.0" r="2.35"/>
<circle cx="536.2" cy="343.0" r="2.35"/>
<circle cx="538.7" cy="339.3" r="2.35"/>
<circle cx="538.2" cy="341.0" r="2.35"/>
<circle cx="537.3" cy="341.9" r="2.35"/>
<circle cx="539.7" cy="335.7" r="2.35"/>
<circle cx="540.9" cy="337.9" r="2.35"/>
<circle cx="530.4" cy="336.2" r="2.35"/>
<circle cx="538.1" cy="340.6" r="2.35"/>
<circle cx="535.2" cy="340.7" r="2.35"/>
<circle cx="534.2" cy="338.9" r="2.35"/>
<circle cx="530.3" cy="325.5" r="2.35"/>
<circle cx="549.4" cy="318.0" r="2.35"/>
<circle cx="532.8" cy="337.9" r="2.35"/>
<circle cx="526.7" cy="331.0" r="2.35"/>
<circle cx="537.7" cy="342.6" r="2.35"/>
<circle cx="540.5" cy="336.0" r="2.35"/>
<circle cx="543.3" cy="330.4" r="2.35"/>
<circle cx="542.8" cy="323.5" r="2.35"/>
<circle cx="531.6" cy="325.4" r="2.35"/>
<circle cx="531.0" cy="331.3" r="2.35"/>
<circle cx="551.1" cy="333.7" r="2.35"/>
<circle cx="529.6" cy="335.5" r="2.35"/>
<circle cx="539.9" cy="338.8" r="2.35"/>
<circle cx="530.5" cy="333.3" r="2.35"/>
<circle cx="535.7" cy="342.8" r="2.35"/>
<circle cx="542.1" cy="332.9" r="2.35"/>
<circle cx="535.5" cy="342.5" r="2.35"/>
<circle cx="526.7" cy="337.0" r="2.35"/>
<circle cx="537.6" cy="342.3" r="2.35"/>
<circle cx="543.8" cy="329.2" r="2.35"/>
<circle cx="516.6" cy="317.6" r="2.35"/>
<circle cx="537.6" cy="342.5" r="2.35"/>
<circle cx="539.7" cy="340.5" r="2.35"/>
<circle cx="529.1" cy="336.4" r="2.35"/>
<circle cx="530.7" cy="330.5" r="2.35"/>
<circle cx="521.3" cy="328.7" r="2.35"/>
<circle cx="539.2" cy="339.9" r="2.35"/>
<circle cx="537.1" cy="342.3" r="2.35"/>
<circle cx="541.8" cy="330.7" r="2.35"/>
<circle cx="554.8" cy="332.4" r="2.35"/>
<circle cx="552.0" cy="322.7" r="2.35"/>
<circle cx="533.0" cy="338.0" r="2.35"/>
<circle cx="539.3" cy="339.0" r="2.35"/>
<circle cx="523.1" cy="322.4" r="2.35"/>
<circle cx="538.2" cy="341.0" r="2.35"/>
<circle cx="547.1" cy="329.0" r="2.35"/>
<circle cx="536.6" cy="343.3" r="2.35"/>
<circle cx="541.9" cy="335.2" r="2.35"/>
<circle cx="541.3" cy="337.4" r="2.35"/>
<circle cx="545.2" cy="334.6" r="2.35"/>
<circle cx="537.5" cy="341.3" r="2.35"/>
<circle cx="538.7" cy="340.1" r="2.35"/>
<circle cx="536.0" cy="343.0" r="2.35"/>
<circle cx="530.4" cy="339.1" r="2.35"/>
<circle cx="541.3" cy="336.3" r="2.35"/>
<circle cx="532.3" cy="331.0" r="2.35"/>
<circle cx="531.5" cy="330.4" r="2.35"/>
<circle cx="538.9" cy="339.0" r="2.35"/>
<circle cx="532.6" cy="338.6" r="2.35"/>
<circle cx="533.2" cy="337.4" r="2.35"/>
<circle cx="532.3" cy="336.4" r="2.35"/>
<circle cx="538.0" cy="342.6" r="2.35"/>
<circle cx="532.7" cy="338.2" r="2.35"/>
<circle cx="531.9" cy="333.4" r="2.35"/>
<circle cx="532.2" cy="333.4" r="2.35"/>
<circle cx="534.1" cy="338.8" r="2.35"/>
<circle cx="535.0" cy="341.7" r="2.35"/>
<circle cx="539.5" cy="340.2" r="2.35"/>
<circle cx="534.1" cy="341.3" r="2.35"/>
<circle cx="544.7" cy="330.2" r="2.35"/>
<circle cx="543.6" cy="316.2" r="2.35"/>
<circle cx="527.8" cy="326.8" r="2.35"/>
<circle cx="539.0" cy="340.9" r="2.35"/>
<circle cx="527.5" cy="326.6" r="2.35"/>
<circle cx="531.2" cy="333.0" r="2.35"/>
<circle cx="536.5" cy="343.4" r="2.35"/>
<circle cx="538.5" cy="340.7" r="2.35"/>
<circle cx="527.2" cy="331.2" r="2.35"/>
<circle cx="536.8" cy="342.8" r="2.35"/>
<circle cx="532.6" cy="339.2" r="2.35"/>
<circle cx="532.0" cy="335.6" r="2.35"/>
<circle cx="538.5" cy="340.3" r="2.35"/>
<circle cx="532.0" cy="338.9" r="2.35"/>
<circle cx="535.6" cy="341.9" r="2.35"/>
<circle cx="534.7" cy="341.3" r="2.35"/>
<circle cx="531.4" cy="338.3" r="2.35"/>
<circle cx="528.5" cy="329.7" r="2.35"/>
<circle cx="543.5" cy="336.5" r="2.35"/>
<circle cx="533.6" cy="340.1" r="2.35"/>
<circle cx="545.0" cy="320.9" r="2.35"/>
<circle cx="531.3" cy="334.7" r="2.35"/>
<circle cx="529.6" cy="331.9" r="2.35"/>
<circle cx="535.9" cy="342.7" r="2.35"/>
<circle cx="542.7" cy="327.3" r="2.35"/>
<circle cx="542.0" cy="334.6" r="2.35"/>
<circle cx="532.9" cy="333.7" r="2.35"/>
<circle cx="549.5" cy="322.0" r="2.35"/>
<circle cx="533.5" cy="337.8" r="2.35"/>
<circle cx="531.6" cy="335.4" r="2.35"/>
<circle cx="533.1" cy="338.9" r="2.35"/>
<circle cx="532.4" cy="333.4" r="2.35"/>
<circle cx="533.7" cy="340.4" r="2.35"/>
<circle cx="534.7" cy="340.6" r="2.35"/>
<circle cx="541.6" cy="332.5" r="2.35"/>
<circle cx="533.4" cy="335.6" r="2.35"/>
<circle cx="525.5" cy="332.8" r="2.35"/>
<circle cx="544.1" cy="330.2" r="2.35"/>
<circle cx="539.8" cy="338.5" r="2.35"/>
<circle cx="536.6" cy="343.2" r="2.35"/>
<circle cx="550.1" cy="330.2" r="2.35"/>
<circle cx="530.1" cy="339.9" r="2.35"/>
<circle cx="534.2" cy="339.5" r="2.35"/>
<circle cx="532.4" cy="336.1" r="2.35"/>
<circle cx="530.4" cy="333.8" r="2.35"/>
<circle cx="528.7" cy="332.4" r="2.35"/>
<circle cx="547.8" cy="328.0" r="2.35"/>
<circle cx="527.2" cy="331.1" r="2.35"/>
<circle cx="546.5" cy="327.1" r="2.35"/>
<circle cx="535.0" cy="340.3" r="2.35"/>
<circle cx="532.4" cy="335.3" r="2.35"/>
<circle cx="526.9" cy="319.6" r="2.35"/>
<circle cx="533.1" cy="338.8" r="2.35"/>
<circle cx="530.9" cy="333.7" r="2.35"/>
<circle cx="537.3" cy="342.4" r="2.35"/>
<circle cx="530.8" cy="331.9" r="2.35"/>
<circle cx="538.8" cy="339.2" r="2.35"/>
<circle cx="539.4" cy="334.7" r="2.35"/>
<circle cx="538.4" cy="339.4" r="2.35"/>
<circle cx="540.1" cy="335.8" r="2.35"/>
<circle cx="535.4" cy="342.3" r="2.35"/>
<circle cx="537.3" cy="342.6" r="2.35"/>
<circle cx="530.4" cy="333.3" r="2.35"/>
<circle cx="536.3" cy="343.2" r="2.35"/>
<circle cx="533.5" cy="340.1" r="2.35"/>
<circle cx="533.6" cy="338.2" r="2.35"/>
<circle cx="539.6" cy="339.7" r="2.35"/>
<circle cx="538.2" cy="339.3" r="2.35"/>
<circle cx="532.1" cy="334.0" r="2.35"/>
<circle cx="537.1" cy="342.4" r="2.35"/>
<circle cx="541.0" cy="340.2" r="2.35"/>
<circle cx="534.7" cy="341.7" r="2.35"/>
<circle cx="530.9" cy="338.5" r="2.35"/>
<circle cx="530.4" cy="332.6" r="2.35"/>
<circle cx="532.0" cy="331.5" r="2.35"/>
<circle cx="530.1" cy="328.5" r="2.35"/>
<circle cx="526.3" cy="320.4" r="2.35"/>
<circle cx="539.5" cy="340.4" r="2.35"/>
<circle cx="531.0" cy="337.1" r="2.35"/>
<circle cx="535.4" cy="342.2" r="2.35"/>
<circle cx="539.9" cy="337.6" r="2.35"/>
<circle cx="541.0" cy="335.4" r="2.35"/>
<circle cx="532.1" cy="333.8" r="2.35"/>
<circle cx="539.2" cy="341.0" r="2.35"/>
<circle cx="539.4" cy="336.0" r="2.35"/>
<circle cx="532.4" cy="339.3" r="2.35"/>
<circle cx="539.6" cy="335.0" r="2.35"/>
<circle cx="543.4" cy="330.8" r="2.35"/>
<circle cx="536.9" cy="342.9" r="2.35"/>
<circle cx="543.8" cy="326.1" r="2.35"/>
<circle cx="540.0" cy="335.4" r="2.35"/>
<circle cx="536.3" cy="343.3" r="2.35"/>
<circle cx="522.4" cy="316.2" r="2.35"/>
<circle cx="534.0" cy="340.7" r="2.35"/>
<circle cx="549.0" cy="312.2" r="2.35"/>
<circle cx="539.7" cy="337.1" r="2.35"/>
<circle cx="535.0" cy="341.9" r="2.35"/>
<circle cx="539.8" cy="335.3" r="2.35"/>
<circle cx="539.9" cy="335.3" r="2.35"/>
<circle cx="532.8" cy="338.2" r="2.35"/>
<circle cx="544.0" cy="324.2" r="2.35"/>
<circle cx="531.0" cy="331.5" r="2.35"/>
<circle cx="533.1" cy="338.5" r="2.35"/>
<circle cx="533.8" cy="339.4" r="2.35"/>
<circle cx="529.5" cy="334.8" r="2.35"/>
<circle cx="522.1" cy="321.5" r="2.35"/>
<circle cx="541.8" cy="337.1" r="2.35"/>
<circle cx="532.5" cy="337.2" r="2.35"/>
<circle cx="537.7" cy="341.6" r="2.35"/>
<circle cx="539.2" cy="339.8" r="2.35"/>
<circle cx="551.7" cy="332.4" r="2.35"/>
<circle cx="539.8" cy="336.4" r="2.35"/>
<circle cx="534.4" cy="340.6" r="2.35"/>
<circle cx="526.8" cy="325.1" r="2.35"/>
<circle cx="541.7" cy="334.6" r="2.35"/>
<circle cx="541.8" cy="330.0" r="2.35"/>
<circle cx="541.2" cy="337.9" r="2.35"/>
<circle cx="539.4" cy="335.5" r="2.35"/>
<circle cx="535.0" cy="341.8" r="2.35"/>
<circle cx="536.3" cy="343.0" r="2.35"/>
<circle cx="534.3" cy="340.4" r="2.35"/>
<circle cx="526.9" cy="338.7" r="2.35"/>
<circle cx="540.0" cy="335.3" r="2.35"/>
<circle cx="544.8" cy="334.7" r="2.35"/>
<circle cx="531.9" cy="334.5" r="2.35"/>
<circle cx="538.7" cy="340.8" r="2.35"/>
<circle cx="531.4" cy="340.1" r="2.35"/>
<circle cx="524.7" cy="324.1" r="2.35"/>
<circle cx="531.2" cy="337.5" r="2.35"/>
<circle cx="533.3" cy="333.6" r="2.35"/>
<circle cx="535.7" cy="342.3" r="2.35"/>
<circle cx="530.7" cy="341.0" r="2.35"/>
<circle cx="535.8" cy="343.1" r="2.35"/>
<circle cx="532.0" cy="335.7" r="2.35"/>
<circle cx="538.4" cy="340.0" r="2.35"/>
<circle cx="543.0" cy="333.7" r="2.35"/>
<circle cx="548.4" cy="327.0" r="2.35"/>
<circle cx="540.7" cy="335.0" r="2.35"/>
<circle cx="537.1" cy="342.4" r="2.35"/>
<circle cx="534.6" cy="339.4" r="2.35"/>
<circle cx="537.6" cy="341.9" r="2.35"/>
<circle cx="532.9" cy="336.6" r="2.35"/>
<circle cx="541.5" cy="330.8" r="2.35"/>
<circle cx="539.4" cy="338.6" r="2.35"/>
<circle cx="540.7" cy="336.5" r="2.35"/>
<circle cx="532.7" cy="338.9" r="2.35"/>
<circle cx="536.5" cy="343.3" r="2.35"/>
<circle cx="531.2" cy="333.4" r="2.35"/>
<circle cx="536.0" cy="342.2" r="2.35"/>
<circle cx="536.5" cy="343.3" r="2.35"/>
<circle cx="539.1" cy="339.7" r="2.35"/>
<circle cx="537.9" cy="341.8" r="2.35"/>
<circle cx="543.8" cy="319.9" r="2.35"/>
<circle cx="534.4" cy="340.5" r="2.35"/>
<circle cx="544.9" cy="338.0" r="2.35"/>
<circle cx="529.8" cy="329.4" r="2.35"/>
<circle cx="542.9" cy="338.3" r="2.35"/>
<circle cx="540.5" cy="337.3" r="2.35"/>
<circle cx="540.4" cy="341.2" r="2.35"/>
<circle cx="535.7" cy="342.5" r="2.35"/>
<circle cx="528.7" cy="323.6" r="2.35"/>
<circle cx="527.0" cy="334.3" r="2.35"/>
<circle cx="531.5" cy="328.7" r="2.35"/>
<circle cx="535.8" cy="342.0" r="2.35"/>
<circle cx="536.4" cy="343.3" r="2.35"/>
<circle cx="531.8" cy="339.4" r="2.35"/>
<circle cx="534.7" cy="339.9" r="2.35"/>
<circle cx="532.0" cy="334.1" r="2.35"/>
<circle cx="541.8" cy="339.1" r="2.35"/>
<circle cx="524.2" cy="328.7" r="2.35"/>
<circle cx="522.3" cy="325.8" r="2.35"/>
<circle cx="536.1" cy="342.9" r="2.35"/>
<circle cx="536.5" cy="343.4" r="2.35"/>
<circle cx="534.9" cy="340.8" r="2.35"/>
<circle cx="547.4" cy="326.9" r="2.35"/>
<circle cx="531.0" cy="336.0" r="2.35"/>
<circle cx="539.2" cy="337.6" r="2.35"/>
<circle cx="541.4" cy="334.3" r="2.35"/>
<circle cx="541.2" cy="332.6" r="2.35"/>
<circle cx="527.4" cy="332.7" r="2.35"/>
<circle cx="536.1" cy="342.8" r="2.35"/>
<circle cx="535.1" cy="340.8" r="2.35"/>
<circle cx="532.8" cy="335.9" r="2.35"/>
<circle cx="542.6" cy="336.4" r="2.35"/>
<circle cx="534.2" cy="340.0" r="2.35"/>
<circle cx="527.3" cy="335.8" r="2.35"/>
<circle cx="526.8" cy="336.0" r="2.35"/>
<circle cx="538.3" cy="341.7" r="2.35"/>
<circle cx="543.1" cy="323.6" r="2.35"/>
<circle cx="544.2" cy="322.5" r="2.35"/>
<circle cx="533.1" cy="339.9" r="2.35"/>
<circle cx="537.2" cy="342.5" r="2.35"/>
<circle cx="532.4" cy="336.9" r="2.35"/>
<circle cx="539.8" cy="336.8" r="2.35"/>
<circle cx="536.8" cy="343.1" r="2.35"/>
<circle cx="536.5" cy="343.3" r="2.35"/>
<circle cx="540.1" cy="340.3" r="2.35"/>
<circle cx="544.0" cy="320.1" r="2.35"/>
<circle cx="544.2" cy="330.3" r="2.35"/>
<circle cx="530.2" cy="330.0" r="2.35"/>
<circle cx="534.2" cy="340.8" r="2.35"/>
<circle cx="542.4" cy="328.0" r="2.35"/>
<circle cx="541.0" cy="331.6" r="2.35"/>
<circle cx="534.4" cy="340.7" r="2.35"/>
<circle cx="537.3" cy="342.1" r="2.35"/>
<circle cx="537.6" cy="342.5" r="2.35"/>
<circle cx="532.7" cy="338.0" r="2.35"/>
<circle cx="535.1" cy="341.4" r="2.35"/>
<circle cx="531.1" cy="338.5" r="2.35"/>
<circle cx="543.8" cy="322.5" r="2.35"/>
<circle cx="530.0" cy="331.4" r="2.35"/>
<circle cx="548.4" cy="318.3" r="2.35"/>
<circle cx="543.2" cy="336.7" r="2.35"/>
<circle cx="547.1" cy="324.0" r="2.35"/>
<circle cx="533.4" cy="337.9" r="2.35"/>
<circle cx="530.0" cy="339.2" r="2.35"/>
<circle cx="541.2" cy="327.3" r="2.35"/>
<circle cx="538.3" cy="340.7" r="2.35"/>
<circle cx="526.2" cy="312.8" r="2.35"/>
<circle cx="547.7" cy="333.1" r="2.35"/>
<circle cx="526.3" cy="316.9" r="2.35"/>
<circle cx="546.3" cy="321.5" r="2.35"/>
<circle cx="529.7" cy="333.8" r="2.35"/>
<circle cx="542.6" cy="339.7" r="2.35"/>
<circle cx="538.9" cy="337.5" r="2.35"/>
<circle cx="532.4" cy="335.4" r="2.35"/>
<circle cx="525.7" cy="334.8" r="2.35"/>
<circle cx="533.2" cy="337.0" r="2.35"/>
<circle cx="552.4" cy="317.6" r="2.35"/>
<circle cx="529.2" cy="319.5" r="2.35"/>
<circle cx="530.1" cy="330.5" r="2.35"/>
<circle cx="542.6" cy="334.9" r="2.35"/>
<circle cx="548.7" cy="330.8" r="2.35"/>
<circle cx="538.8" cy="340.9" r="2.35"/>
<circle cx="542.8" cy="335.7" r="2.35"/>
<circle cx="536.9" cy="343.1" r="2.35"/>
<circle cx="536.8" cy="343.1" r="2.35"/>
<circle cx="542.3" cy="334.7" r="2.35"/>
<circle cx="543.4" cy="333.1" r="2.35"/>
<circle cx="539.8" cy="339.1" r="2.35"/>
<circle cx="541.1" cy="337.4" r="2.35"/>
<circle cx="541.4" cy="337.7" r="2.35"/>
<circle cx="548.3" cy="323.0" r="2.35"/>
<circle cx="544.7" cy="331.5" r="2.35"/>
<circle cx="546.8" cy="336.1" r="2.35"/>
<circle cx="537.6" cy="342.1" r="2.35"/>
<circle cx="540.0" cy="340.1" r="2.35"/>
<circle cx="559.8" cy="322.2" r="2.35"/>
<circle cx="543.5" cy="333.8" r="2.35"/>
<circle cx="545.7" cy="333.5" r="2.35"/>
<circle cx="539.1" cy="339.6" r="2.35"/>
<circle cx="551.0" cy="318.7" r="2.35"/>
<circle cx="539.9" cy="339.4" r="2.35"/>
<circle cx="543.0" cy="338.3" r="2.35"/>
<circle cx="537.0" cy="342.8" r="2.35"/>
<circle cx="538.8" cy="341.0" r="2.35"/>
<circle cx="539.0" cy="340.8" r="2.35"/>
<circle cx="541.3" cy="335.9" r="2.35"/>
<circle cx="537.0" cy="342.7" r="2.35"/>
<circle cx="550.7" cy="321.1" r="2.35"/>
<circle cx="538.4" cy="340.9" r="2.35"/>
<circle cx="541.9" cy="335.0" r="2.35"/>
<circle cx="549.4" cy="325.0" r="2.35"/>
<circle cx="543.9" cy="333.6" r="2.35"/>
<circle cx="547.4" cy="324.9" r="2.35"/>
<circle cx="537.8" cy="341.8" r="2.35"/>
<circle cx="546.1" cy="324.7" r="2.35"/>
<circle cx="546.2" cy="325.1" r="2.35"/>
<circle cx="545.8" cy="338.4" r="2.35"/>
<circle cx="537.2" cy="342.7" r="2.35"/>
<circle cx="542.6" cy="338.0" r="2.35"/>
<circle cx="538.8" cy="341.9" r="2.35"/>
<circle cx="544.7" cy="337.0" r="2.35"/>
<circle cx="541.2" cy="336.2" r="2.35"/>
<circle cx="537.4" cy="342.8" r="2.35"/>
<circle cx="541.2" cy="337.3" r="2.35"/>
<circle cx="538.2" cy="341.2" r="2.35"/>
<circle cx="548.6" cy="324.0" r="2.35"/>
<circle cx="540.1" cy="338.8" r="2.35"/>
<circle cx="545.4" cy="329.7" r="2.35"/>
<circle cx="544.5" cy="334.4" r="2.35"/>
<circle cx="539.8" cy="338.9" r="2.35"/>
<circle cx="540.6" cy="338.6" r="2.35"/>
<circle cx="537.7" cy="341.9" r="2.35"/>
<circle cx="543.6" cy="337.1" r="2.35"/>
<circle cx="536.6" cy="343.2" r="2.35"/>
<circle cx="549.9" cy="330.9" r="2.35"/>
<circle cx="544.7" cy="331.9" r="2.35"/>
<circle cx="543.1" cy="331.7" r="2.35"/>
<circle cx="552.2" cy="319.8" r="2.35"/>
<circle cx="538.7" cy="340.5" r="2.35"/>
<circle cx="541.3" cy="336.2" r="2.35"/>
<circle cx="536.6" cy="343.2" r="2.35"/>
<circle cx="537.1" cy="342.6" r="2.35"/>
<circle cx="546.3" cy="330.8" r="2.35"/>
<circle cx="539.3" cy="341.0" r="2.35"/>
<circle cx="538.1" cy="342.0" r="2.35"/>
<circle cx="551.0" cy="314.6" r="2.35"/>
<circle cx="540.0" cy="338.3" r="2.35"/>
<circle cx="547.6" cy="333.9" r="2.35"/>
<circle cx="540.7" cy="341.1" r="2.35"/>
<circle cx="539.3" cy="341.5" r="2.35"/>
<circle cx="548.8" cy="330.3" r="2.35"/>
<circle cx="544.0" cy="329.5" r="2.35"/>
<circle cx="547.4" cy="325.2" r="2.35"/>
<circle cx="538.1" cy="341.1" r="2.35"/>
<circle cx="537.0" cy="342.7" r="2.35"/>
<circle cx="538.7" cy="340.2" r="2.35"/>
<circle cx="541.3" cy="340.6" r="2.35"/>
<circle cx="547.1" cy="332.8" r="2.35"/>
<circle cx="543.1" cy="332.0" r="2.35"/>
<circle cx="548.9" cy="331.5" r="2.35"/>
<circle cx="545.4" cy="331.6" r="2.35"/>
<circle cx="544.4" cy="332.8" r="2.35"/>
<circle cx="542.5" cy="337.2" r="2.35"/>
<circle cx="544.4" cy="332.2" r="2.35"/>
<circle cx="542.6" cy="337.6" r="2.35"/>
<circle cx="538.1" cy="342.2" r="2.35"/>
<circle cx="538.8" cy="342.1" r="2.35"/>
<circle cx="539.3" cy="339.1" r="2.35"/>
<circle cx="540.7" cy="338.0" r="2.35"/>
<circle cx="541.7" cy="339.8" r="2.35"/>
<circle cx="543.6" cy="331.8" r="2.35"/>
<circle cx="555.0" cy="318.4" r="2.35"/>
<circle cx="538.3" cy="341.3" r="2.35"/>
<circle cx="543.9" cy="330.9" r="2.35"/>
<circle cx="539.3" cy="340.7" r="2.35"/>
<circle cx="536.9" cy="342.9" r="2.35"/>
<circle cx="543.5" cy="334.3" r="2.35"/>
<circle cx="546.6" cy="330.8" r="2.35"/>
<circle cx="537.0" cy="342.9" r="2.35"/>
<circle cx="542.6" cy="339.8" r="2.35"/>
<circle cx="552.5" cy="323.8" r="2.35"/>
<circle cx="545.3" cy="338.5" r="2.35"/>
<circle cx="551.2" cy="333.3" r="2.35"/>
<circle cx="538.3" cy="342.2" r="2.35"/>
<circle cx="552.5" cy="320.3" r="2.35"/>
<circle cx="543.2" cy="338.6" r="2.35"/>
<circle cx="537.8" cy="342.1" r="2.35"/>
<circle cx="538.3" cy="341.3" r="2.35"/>
<circle cx="541.2" cy="337.9" r="2.35"/>
<circle cx="544.8" cy="328.9" r="2.35"/>
<circle cx="541.4" cy="337.4" r="2.35"/>
<circle cx="545.6" cy="329.5" r="2.35"/>
<circle cx="540.8" cy="337.2" r="2.35"/>
<circle cx="546.8" cy="321.5" r="2.35"/>
<circle cx="536.7" cy="343.2" r="2.35"/>
<circle cx="541.5" cy="338.4" r="2.35"/>
<circle cx="545.1" cy="334.0" r="2.35"/>
<circle cx="543.2" cy="340.4" r="2.35"/>
<circle cx="536.8" cy="343.0" r="2.35"/>
<circle cx="537.5" cy="342.7" r="2.35"/>
<circle cx="540.2" cy="337.3" r="2.35"/>
<circle cx="540.1" cy="338.9" r="2.35"/>
<circle cx="539.4" cy="339.2" r="2.35"/>
<circle cx="537.3" cy="342.8" r="2.35"/>
<circle cx="536.9" cy="343.0" r="2.35"/>
<circle cx="562.2" cy="313.8" r="2.35"/>
<circle cx="537.0" cy="343.0" r="2.35"/>
<circle cx="556.2" cy="313.8" r="2.35"/>
<circle cx="540.2" cy="337.8" r="2.35"/>
<circle cx="540.7" cy="338.7" r="2.35"/>
<circle cx="546.5" cy="320.3" r="2.35"/>
<circle cx="540.0" cy="341.4" r="2.35"/>
<circle cx="542.3" cy="335.7" r="2.35"/>
<circle cx="543.6" cy="334.0" r="2.35"/>
<circle cx="538.7" cy="341.2" r="2.35"/>
<circle cx="543.3" cy="331.9" r="2.35"/>
<circle cx="542.8" cy="334.0" r="2.35"/>
<circle cx="539.2" cy="340.0" r="2.35"/>
<circle cx="537.6" cy="342.3" r="2.35"/>
<circle cx="548.0" cy="328.4" r="2.35"/>
<circle cx="542.8" cy="337.1" r="2.35"/>
<circle cx="538.4" cy="341.3" r="2.35"/>
<circle cx="540.5" cy="339.8" r="2.35"/>
<circle cx="543.7" cy="331.8" r="2.35"/>
<circle cx="537.6" cy="342.3" r="2.35"/>
<circle cx="546.7" cy="328.9" r="2.35"/>
<circle cx="545.7" cy="333.9" r="2.35"/>
<circle cx="538.7" cy="340.7" r="2.35"/>
<circle cx="539.9" cy="338.1" r="2.35"/>
<circle cx="550.0" cy="321.5" r="2.35"/>
<circle cx="544.4" cy="330.3" r="2.35"/>
<circle cx="544.5" cy="335.8" r="2.35"/>
<circle cx="543.3" cy="334.5" r="2.35"/>
<circle cx="537.6" cy="342.6" r="2.35"/>
<circle cx="547.6" cy="326.2" r="2.35"/>
<circle cx="538.6" cy="341.4" r="2.35"/>
<circle cx="538.1" cy="341.4" r="2.35"/>
<circle cx="542.7" cy="335.1" r="2.35"/>
<circle cx="540.1" cy="340.8" r="2.35"/>
<circle cx="541.9" cy="337.0" r="2.35"/>
<circle cx="541.4" cy="337.4" r="2.35"/>
<circle cx="549.1" cy="335.1" r="2.35"/>
<circle cx="550.6" cy="326.7" r="2.35"/>
<circle cx="553.3" cy="329.8" r="2.35"/>
<circle cx="536.9" cy="342.8" r="2.35"/>
<circle cx="544.7" cy="334.2" r="2.35"/>
<circle cx="539.1" cy="340.5" r="2.35"/>
<circle cx="537.0" cy="342.9" r="2.35"/>
<circle cx="540.0" cy="340.1" r="2.35"/>
<circle cx="537.5" cy="342.3" r="2.35"/>
<circle cx="540.3" cy="336.6" r="2.35"/>
<circle cx="544.3" cy="334.9" r="2.35"/>
<circle cx="537.1" cy="342.9" r="2.35"/>
<circle cx="551.4" cy="320.7" r="2.35"/>
<circle cx="555.2" cy="317.5" r="2.35"/>
<circle cx="544.6" cy="333.2" r="2.35"/>
<circle cx="541.9" cy="337.9" r="2.35"/>
<circle cx="539.9" cy="338.1" r="2.35"/>
<circle cx="540.6" cy="337.9" r="2.35"/>
<circle cx="537.0" cy="342.9" r="2.35"/>
<circle cx="551.1" cy="321.3" r="2.35"/>
<circle cx="544.4" cy="333.3" r="2.35"/>
<circle cx="539.9" cy="337.5" r="2.35"/>
<circle cx="545.7" cy="327.7" r="2.35"/>
<circle cx="547.4" cy="332.9" r="2.35"/>
<circle cx="539.2" cy="341.4" r="2.35"/>
<circle cx="540.2" cy="339.1" r="2.35"/>
<circle cx="537.7" cy="342.0" r="2.35"/>
<circle cx="537.0" cy="342.9" r="2.35"/>
<circle cx="536.8" cy="343.2" r="2.35"/>
<circle cx="543.2" cy="335.5" r="2.35"/>
<circle cx="552.4" cy="318.0" r="2.35"/>
<circle cx="539.4" cy="340.8" r="2.35"/>
<circle cx="547.9" cy="330.0" r="2.35"/>
<circle cx="538.4" cy="341.5" r="2.35"/>
<circle cx="540.9" cy="337.4" r="2.35"/>
<circle cx="544.8" cy="328.8" r="2.35"/>
<circle cx="546.0" cy="333.2" r="2.35"/>
<circle cx="540.4" cy="339.3" r="2.35"/>
<circle cx="541.7" cy="334.8" r="2.35"/>
<circle cx="544.5" cy="333.5" r="2.35"/>
<circle cx="545.6" cy="334.5" r="2.35"/>
<circle cx="541.6" cy="335.9" r="2.35"/>
<circle cx="540.3" cy="338.1" r="2.35"/>
<circle cx="537.3" cy="342.6" r="2.35"/>
<circle cx="552.2" cy="330.9" r="2.35"/>
<circle cx="537.4" cy="342.3" r="2.35"/>
<circle cx="543.4" cy="327.8" r="2.35"/>
<circle cx="544.2" cy="332.7" r="2.35"/>
<circle cx="546.5" cy="328.2" r="2.35"/>
<circle cx="540.0" cy="338.8" r="2.35"/>
<circle cx="549.6" cy="327.5" r="2.35"/>
<circle cx="548.3" cy="323.3" r="2.35"/>
<circle cx="539.1" cy="340.2" r="2.35"/>
<circle cx="543.4" cy="337.4" r="2.35"/>
<circle cx="537.1" cy="342.7" r="2.35"/>
<circle cx="541.5" cy="337.4" r="2.35"/>
<circle cx="543.0" cy="332.1" r="2.35"/>
<circle cx="541.3" cy="336.8" r="2.35"/>
<circle cx="546.7" cy="322.7" r="2.35"/>
<circle cx="540.0" cy="339.6" r="2.35"/>
<circle cx="536.7" cy="343.1" r="2.35"/>
<circle cx="554.1" cy="322.2" r="2.35"/>
<circle cx="538.5" cy="341.5" r="2.35"/>
<circle cx="539.9" cy="341.5" r="2.35"/>
<circle cx="547.7" cy="331.6" r="2.35"/>
<circle cx="541.7" cy="336.1" r="2.35"/>
<circle cx="542.5" cy="338.3" r="2.35"/>
<circle cx="541.3" cy="337.1" r="2.35"/>
<circle cx="545.9" cy="332.8" r="2.35"/>
<circle cx="542.3" cy="334.2" r="2.35"/>
<circle cx="547.3" cy="329.4" r="2.35"/>
<circle cx="539.8" cy="341.5" r="2.35"/>
<circle cx="536.7" cy="343.2" r="2.35"/>
<circle cx="538.1" cy="341.5" r="2.35"/>
<circle cx="539.8" cy="340.5" r="2.35"/>
<circle cx="544.0" cy="328.5" r="2.35"/>
<circle cx="538.1" cy="341.6" r="2.35"/>
<circle cx="537.4" cy="342.7" r="2.35"/>
<circle cx="540.5" cy="337.6" r="2.35"/>
<circle cx="542.4" cy="339.2" r="2.35"/>
<circle cx="537.7" cy="342.6" r="2.35"/>
<circle cx="548.8" cy="319.8" r="2.35"/>
<circle cx="543.0" cy="339.9" r="2.35"/>
<circle cx="538.6" cy="342.2" r="2.35"/>
<circle cx="545.5" cy="333.3" r="2.35"/>
<circle cx="540.0" cy="341.0" r="2.35"/>
<circle cx="536.6" cy="343.3" r="2.35"/>
<circle cx="538.9" cy="340.7" r="2.35"/>
<circle cx="556.3" cy="319.0" r="2.35"/>
</g>
<line x1="648.70" y1="234.50" x2="617.60" y2="290.90" stroke="#999999" stroke-width="0.8"/>
<line x1="650.00" y1="286.20" x2="645.90" y2="296.00" stroke="#999999" stroke-width="0.8"/>
<line x1="547.70" y1="205.10" x2="552.80" y2="271.60" stroke="#999999" stroke-width="0.8"/>
<line x1="572.20" y1="220.00" x2="552.80" y2="279.50" stroke="#999999" stroke-width="0.8"/>
<line x1="539.40" y1="239.70" x2="547.80" y2="291.00" stroke="#999999" stroke-width="0.8"/>
<line x1="571.00" y1="246.30" x2="550.80" y2="295.00" stroke="#999999" stroke-width="0.8"/>
<line x1="574.30" y1="257.70" x2="558.10" y2="291.00" stroke="#999999" stroke-width="0.8"/>
<line x1="579.40" y1="268.50" x2="561.80" y2="293.50" stroke="#999999" stroke-width="0.8"/>
<line x1="581.80" y1="282.10" x2="567.70" y2="291.20" stroke="#999999" stroke-width="0.8"/>
<line x1="576.20" y1="293.00" x2="551.30" y2="297.60" stroke="#999999" stroke-width="0.8"/>
<line x1="582.50" y1="301.30" x2="570.90" y2="303.20" stroke="#999999" stroke-width="0.8"/>
<line x1="577.00" y1="311.30" x2="554.90" y2="301.30" stroke="#999999" stroke-width="0.8"/>
<line x1="504.00" y1="268.00" x2="524.60" y2="287.00" stroke="#999999" stroke-width="0.8"/>
<line x1="502.20" y1="280.40" x2="531.00" y2="298.60" stroke="#999999" stroke-width="0.8"/>
<line x1="499.70" y1="294.00" x2="520.30" y2="296.40" stroke="#999999" stroke-width="0.8"/>
<circle cx="601.2" cy="26.4" r="2.45" fill="#ff2200"/>
<circle cx="641.6" cy="48.6" r="2.45" fill="#ff2200"/>
<circle cx="670.4" cy="56.0" r="2.45" fill="#ff2200"/>
<circle cx="560.7" cy="145.4" r="2.45" fill="#ff2200"/>
<circle cx="595.7" cy="145.6" r="2.45" fill="#ff2200"/>
<circle cx="647.1" cy="190.9" r="2.45" fill="#ff2200"/>
<circle cx="617.6" cy="290.9" r="2.45" fill="#ff2200"/>
<circle cx="645.9" cy="296.0" r="2.45" fill="#ff2200"/>
<circle cx="552.8" cy="271.6" r="2.45" fill="#ff2200"/>
<circle cx="552.8" cy="279.5" r="2.45" fill="#ff2200"/>
<circle cx="547.8" cy="291.0" r="2.45" fill="#ff2200"/>
<circle cx="550.8" cy="295.0" r="2.45" fill="#ff2200"/>
<circle cx="551.3" cy="297.6" r="2.45" fill="#ff2200"/>
<circle cx="554.9" cy="301.3" r="2.45" fill="#ff2200"/>
<circle cx="558.1" cy="291.0" r="2.45" fill="#ff2200"/>
<circle cx="561.8" cy="293.5" r="2.45" fill="#ff2200"/>
<circle cx="567.7" cy="291.2" r="2.45" fill="#ff2200"/>
<circle cx="570.9" cy="303.2" r="2.45" fill="#ff2200"/>
<circle cx="524.6" cy="287.0" r="2.45" fill="#ff2200"/>
<circle cx="531.0" cy="298.6" r="2.45" fill="#ff2200"/>
<circle cx="520.3" cy="296.4" r="2.45" fill="#ff2200"/>
<text x="606.50" y="31.80" font-size="11.4" font-weight="bold" font-style="normal" fill="#000" text-anchor="start"  stroke="#000" stroke-width="0.25" stroke-linejoin="round">CagA</text>
<text x="611.90" y="52.20" font-size="11.3" font-weight="bold" font-style="normal" fill="#000" text-anchor="start"  stroke="#000" stroke-width="0.25" stroke-linejoin="round">HofC</text>
<text x="638.50" y="68.20" font-size="11" font-weight="bold" font-style="normal" fill="#000" text-anchor="start"  stroke="#000" stroke-width="0.25" stroke-linejoin="round">HP0410</text>
<text x="596.80" y="141.20" font-size="11.35" font-weight="bold" font-style="normal" fill="#000" text-anchor="start"  stroke="#000" stroke-width="0.25" stroke-linejoin="round">HELPY_1262</text>
<text x="560.00" y="158.10" font-size="10.45" font-weight="normal" font-style="normal" fill="#7f7f7f" text-anchor="start" >GroL</text>
<text x="642.60" y="186.00" font-size="11" font-weight="bold" font-style="normal" fill="#000" text-anchor="start"  stroke="#000" stroke-width="0.25" stroke-linejoin="round">HopE</text>
<text x="641.10" y="232.20" font-size="11.3" font-weight="bold" font-style="normal" fill="#000" text-anchor="start"  stroke="#000" stroke-width="0.25" stroke-linejoin="round">HorB</text>
<text x="640.10" y="286.20" font-size="11.2" font-weight="bold" font-style="normal" fill="#000" text-anchor="start"  stroke="#000" stroke-width="0.25" stroke-linejoin="round">Omp14</text>
<text x="582.60" y="305.40" font-size="11.2" font-weight="bold" font-style="normal" fill="#000" text-anchor="start"  stroke="#000" stroke-width="0.25" stroke-linejoin="round">HP1227</text>
<text x="538.40" y="203.90" font-size="10.45" font-weight="normal" font-style="normal" fill="#7f7f7f" text-anchor="start" >HP1409</text>
<text x="562.20" y="218.80" font-size="10.45" font-weight="normal" font-style="normal" fill="#7f7f7f" text-anchor="start" >CeuE</text>
<text x="514.90" y="238.40" font-size="10.45" font-weight="normal" font-style="normal" fill="#7f7f7f" text-anchor="start" >DnaK</text>
<text x="571.00" y="248.90" font-size="10.45" font-weight="normal" font-style="normal" fill="#7f7f7f" text-anchor="start" >HopQ</text>
<text x="575.20" y="260.50" font-size="10.45" font-weight="normal" font-style="normal" fill="#7f7f7f" text-anchor="start" >Rpl9</text>
<text x="580.20" y="271.70" font-size="10.45" font-weight="normal" font-style="normal" fill="#7f7f7f" text-anchor="start" >HP0305</text>
<text x="583.40" y="282.90" font-size="10.45" font-weight="normal" font-style="normal" fill="#7f7f7f" text-anchor="start" >GroES</text>
<text x="577.00" y="295.00" font-size="10.45" font-weight="normal" font-style="normal" fill="#7f7f7f" text-anchor="start" >Tuf</text>
<text x="578.90" y="315.00" font-size="10.45" font-weight="normal" font-style="normal" fill="#7f7f7f" text-anchor="start" >Lpp20</text>
<text x="476.00" y="270.20" font-size="10.45" font-weight="normal" font-style="normal" fill="#7f7f7f" text-anchor="start" >NrdA</text>
<text x="473.50" y="283.50" font-size="10.45" font-weight="normal" font-style="normal" fill="#7f7f7f" text-anchor="start" >RpoB</text>
<text x="476.90" y="297.80" font-size="10.45" font-weight="normal" font-style="normal" fill="#7f7f7f" text-anchor="start" >FlaB</text>
<text x="389.60" y="348.40" font-size="11.9" font-weight="normal" font-style="normal" fill="#000" text-anchor="end" >0</text>
<text x="389.60" y="249.40" font-size="11.9" font-weight="normal" font-style="normal" fill="#000" text-anchor="end" >-5</text>
<text x="389.60" y="150.40" font-size="11.9" font-weight="normal" font-style="normal" fill="#000" text-anchor="end" >-10</text>
<text x="389.60" y="51.40" font-size="11.9" font-weight="normal" font-style="normal" fill="#000" text-anchor="end" >-15</text>
<text x="392.83" y="359.60" font-size="11.9" font-weight="normal" font-style="normal" fill="#000" text-anchor="middle" >-1.5</text>
<text x="440.20" y="359.60" font-size="11.9" font-weight="normal" font-style="normal" fill="#000" text-anchor="middle" >-1.0</text>
<text x="487.58" y="359.60" font-size="11.9" font-weight="normal" font-style="normal" fill="#000" text-anchor="middle" >-0.5</text>
<text x="534.95" y="359.60" font-size="11.9" font-weight="normal" font-style="normal" fill="#000" text-anchor="middle" >0.0</text>
<text x="582.33" y="359.60" font-size="11.9" font-weight="normal" font-style="normal" fill="#000" text-anchor="middle" >0.5</text>
<text x="629.70" y="359.60" font-size="11.9" font-weight="normal" font-style="normal" fill="#000" text-anchor="middle" >1.0</text>
<text x="677.08" y="359.60" font-size="11.9" font-weight="normal" font-style="normal" fill="#000" text-anchor="middle" >1.5</text>
<text x="414.2" y="380.9" font-size="11.25" fill="#000">LOG2 fold change (Δ<tspan font-style="italic">hpnc4160-hpnc4170</tspan> / WT)</text>
<text transform="translate(363.8,213.2) rotate(-90)" font-size="11.5" fill="#000">P value (LOG10)</text>
<text x="354.50" y="9.00" font-size="12" font-weight="bold" font-style="normal" fill="#000" text-anchor="start"  stroke="#000" stroke-width="0.25" stroke-linejoin="round">b</text>
<circle cx="322.5" cy="454.7" r="41.8" fill="#b2e0f7" stroke="#cfcfcf" stroke-width="0.8"/>
<circle cx="363.6" cy="453.6" r="50.6" fill="#fff7aa" fill-opacity="1" stroke="#d8d8d8" stroke-width="0.8"/>
<clipPath id="cb"><circle cx="322.5" cy="454.7" r="41.8"/></clipPath>
<circle cx="363.6" cy="453.6" r="50.6" fill="#cae6aa" clip-path="url(#cb)"/>
<circle cx="322.5" cy="454.7" r="41.8" fill="none" stroke="#bcc8b0" stroke-width="0.6" clip-path="none" opacity="0.6"/>
<text x="249.00" y="418.10" font-size="12" font-weight="bold" font-style="normal" fill="#000" text-anchor="start"  stroke="#000" stroke-width="0.25" stroke-linejoin="round">c</text>
<text x="272.00" y="446.80" font-size="13.8" font-weight="normal" font-style="normal" fill="#231f20" text-anchor="start" >RNA-seq</text>
<text x="364.00" y="446.60" font-size="13.8" font-weight="normal" font-style="normal" fill="#231f20" text-anchor="start" >iTRAQ</text>
<text x="300.40" y="472.70" font-size="13.8" font-weight="normal" font-style="normal" fill="#231f20" text-anchor="middle" >17</text>
<text x="341.40" y="472.70" font-size="13.8" font-weight="bold" font-style="normal" fill="#231f20" text-anchor="middle"  stroke="#231f20" stroke-width="0.25" stroke-linejoin="round">8</text>
<text x="384.90" y="472.70" font-size="13.8" font-weight="normal" font-style="normal" fill="#231f20" text-anchor="middle" >21</text>
<text x="336.60" y="513.60" font-size="13.8" font-weight="normal" font-style="normal" fill="#231f20" text-anchor="end" >RNA-seq</text>
<text x="336.60" y="528.10" font-size="13.98" font-weight="normal" font-style="normal" fill="#231f20" text-anchor="end" >total 1584 mRNAs</text>
<text x="349.20" y="513.60" font-size="13.8" font-weight="normal" font-style="normal" fill="#231f20" text-anchor="start" >iTRAQ</text>
<text x="349.20" y="528.10" font-size="13.98" font-weight="normal" font-style="normal" fill="#231f20" text-anchor="start" >total 1263 proteins</text>
</g></svg>
</body></html>
